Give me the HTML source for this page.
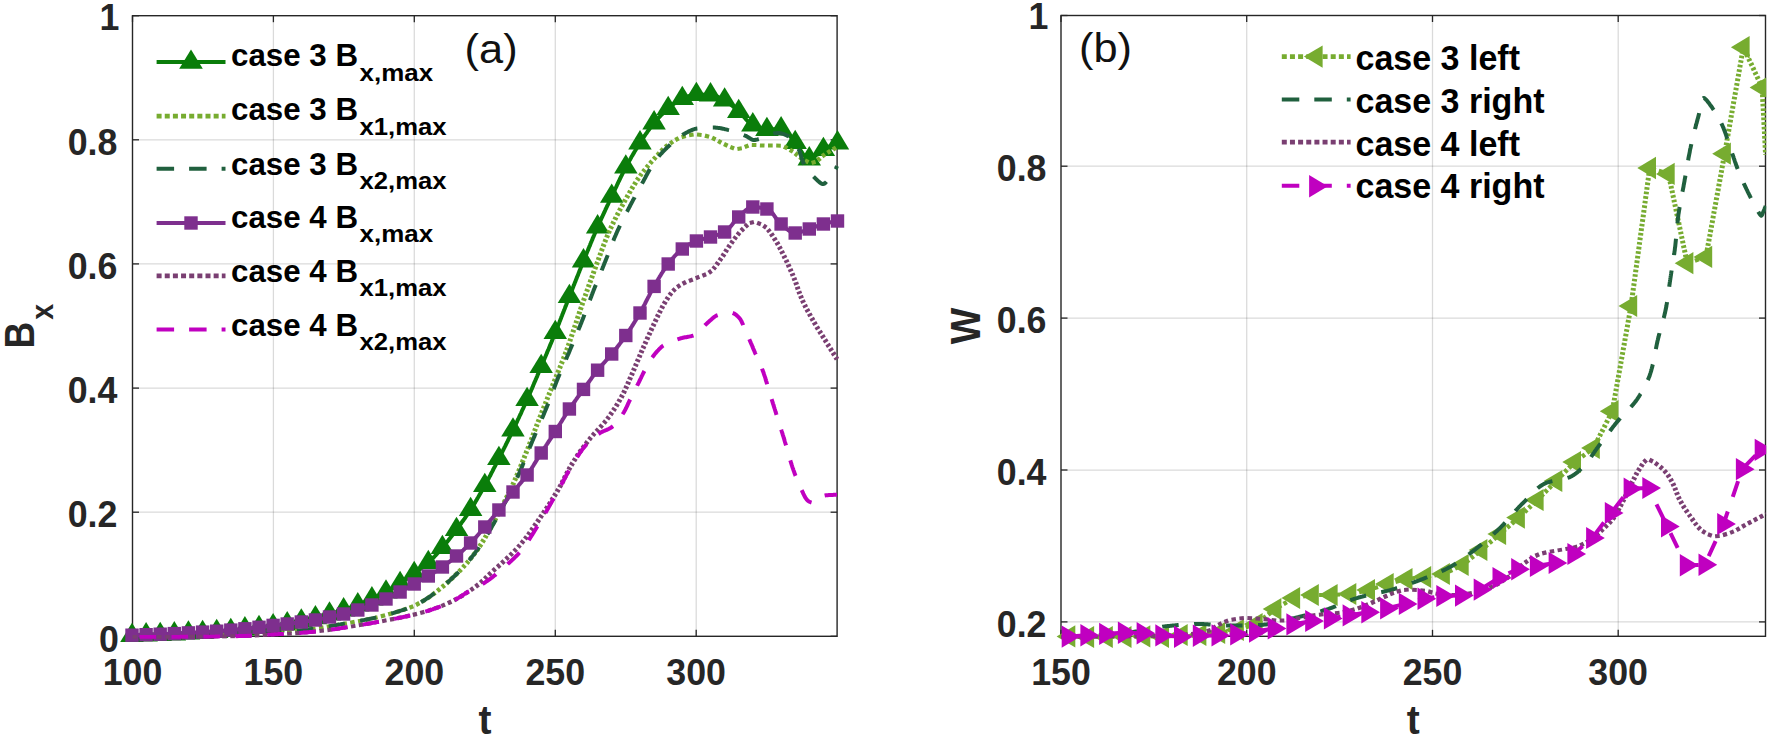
<!DOCTYPE html>
<html lang="en">
<head>
<meta charset="utf-8">
<title>Bx and W versus t</title>
<style>html,body{margin:0;padding:0;background:#fff;}body{width:1770px;height:743px;overflow:hidden;}svg{display:block;}</style>
</head>
<body>
<svg width="1770" height="743" viewBox="0 0 1770 743" font-family="'Liberation Sans', Arial, Helvetica, sans-serif">
<rect width="1770" height="743" fill="#ffffff"/>
<defs><clipPath id="cl"><rect x="130.0" y="13.2" width="709.6" height="625.6"/></clipPath><clipPath id="cr"><rect x="1058.5" y="13.0" width="707.7" height="625.8"/></clipPath><clipPath id="crm"><rect x="1000" y="0" width="766.2" height="743"/></clipPath></defs>
<g id="left-panel">
<line x1="273.4" y1="15.7" x2="273.4" y2="636.3" stroke="#262626" stroke-opacity="0.17" stroke-width="1.25"/><line x1="414.3" y1="15.7" x2="414.3" y2="636.3" stroke="#262626" stroke-opacity="0.17" stroke-width="1.25"/><line x1="555.3" y1="15.7" x2="555.3" y2="636.3" stroke="#262626" stroke-opacity="0.17" stroke-width="1.25"/><line x1="696.2" y1="15.7" x2="696.2" y2="636.3" stroke="#262626" stroke-opacity="0.17" stroke-width="1.25"/><line x1="132.5" y1="512.2" x2="837.1" y2="512.2" stroke="#262626" stroke-opacity="0.17" stroke-width="1.25"/><line x1="132.5" y1="388.1" x2="837.1" y2="388.1" stroke="#262626" stroke-opacity="0.17" stroke-width="1.25"/><line x1="132.5" y1="263.9" x2="837.1" y2="263.9" stroke="#262626" stroke-opacity="0.17" stroke-width="1.25"/><line x1="132.5" y1="139.8" x2="837.1" y2="139.8" stroke="#262626" stroke-opacity="0.17" stroke-width="1.25"/>
<line x1="132.5" y1="636.3" x2="132.5" y2="629.8" stroke="#262626" stroke-width="1.3"/><line x1="132.5" y1="15.7" x2="132.5" y2="22.2" stroke="#262626" stroke-width="1.3"/><line x1="273.4" y1="636.3" x2="273.4" y2="629.8" stroke="#262626" stroke-width="1.3"/><line x1="273.4" y1="15.7" x2="273.4" y2="22.2" stroke="#262626" stroke-width="1.3"/><line x1="414.3" y1="636.3" x2="414.3" y2="629.8" stroke="#262626" stroke-width="1.3"/><line x1="414.3" y1="15.7" x2="414.3" y2="22.2" stroke="#262626" stroke-width="1.3"/><line x1="555.3" y1="636.3" x2="555.3" y2="629.8" stroke="#262626" stroke-width="1.3"/><line x1="555.3" y1="15.7" x2="555.3" y2="22.2" stroke="#262626" stroke-width="1.3"/><line x1="696.2" y1="636.3" x2="696.2" y2="629.8" stroke="#262626" stroke-width="1.3"/><line x1="696.2" y1="15.7" x2="696.2" y2="22.2" stroke="#262626" stroke-width="1.3"/><line x1="132.5" y1="636.3" x2="139.0" y2="636.3" stroke="#262626" stroke-width="1.3"/><line x1="837.1" y1="636.3" x2="830.6" y2="636.3" stroke="#262626" stroke-width="1.3"/><line x1="132.5" y1="512.2" x2="139.0" y2="512.2" stroke="#262626" stroke-width="1.3"/><line x1="837.1" y1="512.2" x2="830.6" y2="512.2" stroke="#262626" stroke-width="1.3"/><line x1="132.5" y1="388.1" x2="139.0" y2="388.1" stroke="#262626" stroke-width="1.3"/><line x1="837.1" y1="388.1" x2="830.6" y2="388.1" stroke="#262626" stroke-width="1.3"/><line x1="132.5" y1="263.9" x2="139.0" y2="263.9" stroke="#262626" stroke-width="1.3"/><line x1="837.1" y1="263.9" x2="830.6" y2="263.9" stroke="#262626" stroke-width="1.3"/><line x1="132.5" y1="139.8" x2="139.0" y2="139.8" stroke="#262626" stroke-width="1.3"/><line x1="837.1" y1="139.8" x2="830.6" y2="139.8" stroke="#262626" stroke-width="1.3"/><line x1="132.5" y1="15.7" x2="139.0" y2="15.7" stroke="#262626" stroke-width="1.3"/><line x1="837.1" y1="15.7" x2="830.6" y2="15.7" stroke="#262626" stroke-width="1.3"/><rect x="132.5" y="15.7" width="704.6" height="620.6" fill="none" stroke="#262626" stroke-width="1.4"/>
<g id="left-curves">
<polyline points="132.0,635.6 133.0,635.6 134.0,635.5 135.0,635.5 136.0,635.4 137.0,635.4 138.0,635.3 139.0,635.3 140.0,635.2 141.0,635.2 142.0,635.2 143.0,635.1 144.0,635.1 145.0,635.0 146.0,635.0 147.0,635.0 148.0,634.9 149.0,634.9 150.0,634.9 151.0,634.9 152.0,634.8 153.0,634.8 154.0,634.8 155.0,634.8 156.0,634.7 157.0,634.7 158.0,634.7 159.0,634.6 160.0,634.6 161.0,634.6 162.0,634.5 163.0,634.5 164.0,634.5 165.0,634.4 166.0,634.4 167.0,634.3 168.0,634.3 169.0,634.2 170.0,634.2 171.0,634.2 172.0,634.1 173.0,634.1 174.0,634.0 175.0,634.0 176.0,633.9 177.0,633.9 178.1,633.8 179.1,633.7 180.1,633.7 181.1,633.6 182.1,633.6 183.1,633.5 184.1,633.4 185.1,633.4 186.1,633.3 187.1,633.3 188.1,633.2 189.1,633.2 190.1,633.1 191.1,633.1 192.1,633.0 193.1,633.0 194.1,633.0 195.1,632.9 196.1,632.9 197.1,632.8 198.1,632.8 199.1,632.8 200.1,632.7 201.1,632.7 202.1,632.6 203.1,632.6 204.1,632.5 205.1,632.5 206.1,632.4 207.1,632.3 208.1,632.2 209.1,632.2 210.1,632.1 211.1,632.0 212.1,631.9 213.1,631.9 214.1,631.8 215.1,631.7 216.1,631.6 217.1,631.6 218.1,631.5 219.1,631.4 220.1,631.4 221.1,631.3 222.1,631.2 223.1,631.2 224.1,631.1 225.1,631.0 226.1,631.0 227.1,630.9 228.1,630.8 229.1,630.7 230.1,630.7 231.0,630.6 232.0,630.5 233.0,630.4 234.0,630.3 235.0,630.2 236.0,630.0 237.0,629.9 238.0,629.8 239.0,629.7 240.0,629.6 241.0,629.4 242.0,629.3 243.0,629.2 244.0,629.1 245.0,629.0 246.0,628.9 247.0,628.8 248.0,628.7 249.0,628.6 250.0,628.5 251.0,628.4 252.0,628.3 253.0,628.2 254.0,628.1 255.0,628.0 256.0,627.9 257.0,627.8 257.9,627.7 258.9,627.6 259.9,627.5 260.9,627.4 261.9,627.3 262.9,627.1 263.9,627.0 264.9,626.9 265.9,626.7 266.9,626.6 267.9,626.5 268.9,626.4 269.9,626.2 270.9,626.1 271.9,626.0 272.9,625.8 273.9,625.7 274.8,625.6 275.8,625.5 276.8,625.3 277.8,625.2 278.8,625.1 279.8,625.0 280.8,624.9 281.8,624.7 282.8,624.6 283.8,624.5 284.8,624.4 285.8,624.2 286.8,624.1 287.8,623.9 288.7,623.8 289.7,623.6 290.7,623.4 291.7,623.2 292.7,623.0 293.7,622.8 294.7,622.6 295.6,622.4 296.6,622.2 297.6,622.0 298.6,621.8 299.6,621.6 300.5,621.4 301.5,621.2 302.5,620.9 303.5,620.7 304.4,620.5 305.4,620.3 306.4,620.0 307.4,619.8 308.3,619.6 309.3,619.3 310.3,619.1 311.3,618.8 312.2,618.6 313.2,618.4 314.2,618.1 315.2,617.9 316.1,617.6 317.1,617.4 318.1,617.1 319.0,616.9 320.0,616.7 321.0,616.4 322.0,616.2 322.9,615.9 323.9,615.7 324.9,615.4 325.8,615.2 326.8,614.9 327.8,614.7 328.7,614.4 329.7,614.2 330.7,613.9 331.6,613.6 332.6,613.3 333.6,613.1 334.5,612.8 335.5,612.5 336.5,612.2 337.4,611.9 338.4,611.7 339.3,611.4 340.3,611.1 341.2,610.8 342.2,610.5 343.2,610.2 344.1,609.9 345.1,609.5 346.0,609.2 347.0,608.9 347.9,608.6 348.9,608.3 349.8,607.9 350.8,607.6 351.7,607.3 352.6,606.9 353.6,606.6 354.5,606.2 355.5,605.9 356.4,605.5 357.3,605.2 358.3,604.8 359.2,604.4 360.1,604.1 361.1,603.7 362.0,603.3 362.9,602.9 363.8,602.5 364.8,602.1 365.7,601.7 366.6,601.3 367.5,600.9 368.4,600.5 369.3,600.1 370.3,599.7 371.2,599.3 372.1,598.9 373.0,598.5 373.9,598.1 374.8,597.7 375.7,597.2 376.6,596.8 377.6,596.4 378.5,596.0 379.4,595.5 380.3,595.1 381.2,594.7 382.1,594.2 383.0,593.8 383.9,593.3 384.7,592.9 385.6,592.4 386.5,591.9 387.4,591.4 388.3,590.9 389.1,590.4 390.0,589.9 390.9,589.4 391.7,588.9 392.6,588.4 393.4,587.9 394.3,587.3 395.1,586.8 396.0,586.3 396.8,585.7 397.7,585.2 398.5,584.6 399.3,584.1 400.2,583.5 401.0,583.0 401.8,582.4 402.7,581.9 403.5,581.3 404.3,580.7 405.2,580.2 406.0,579.6 406.8,579.0 407.6,578.4 408.4,577.8 409.2,577.3 410.0,576.7 410.9,576.1 411.7,575.5 412.5,574.9 413.3,574.3 414.1,573.7 414.9,573.1 415.7,572.5 416.5,571.9 417.3,571.3 418.1,570.7 418.9,570.1 419.7,569.5 420.5,568.9 421.3,568.3 422.1,567.7 422.9,567.1 423.7,566.5 424.5,565.8 425.3,565.2 426.1,564.6 426.8,563.9 427.6,563.3 428.3,562.6 429.0,561.9 429.8,561.3 430.5,560.6 431.2,559.9 431.9,559.2 432.6,558.5 433.3,557.7 434.0,557.0 434.7,556.3 435.4,555.5 436.1,554.8 436.7,554.1 437.4,553.3 438.1,552.6 438.8,551.8 439.4,551.1 440.1,550.3 440.7,549.5 441.4,548.8 442.1,548.0 442.7,547.3 443.4,546.5 444.0,545.7 444.6,545.0 445.3,544.2 445.9,543.4 446.5,542.6 447.2,541.9 447.8,541.1 448.4,540.3 449.0,539.5 449.6,538.7 450.3,537.9 450.9,537.1 451.5,536.3 452.1,535.5 452.7,534.7 453.3,533.9 453.9,533.1 454.5,532.3 455.1,531.5 455.7,530.7 456.3,529.9 456.9,529.1 457.5,528.3 458.1,527.5 458.7,526.7 459.3,525.9 459.9,525.1 460.5,524.3 461.1,523.5 461.6,522.6 462.2,521.8 462.8,521.0 463.4,520.2 464.0,519.4 464.6,518.6 465.1,517.8 465.7,516.9 466.3,516.1 466.9,515.3 467.4,514.5 468.0,513.6 468.5,512.8 469.1,512.0 469.6,511.1 470.2,510.3 470.7,509.4 471.3,508.6 471.8,507.8 472.3,506.9 472.9,506.1 473.4,505.2 473.9,504.4 474.4,503.5 475.0,502.7 475.5,501.8 476.0,500.9 476.5,500.1 477.0,499.2 477.5,498.3 478.0,497.5 478.5,496.6 479.0,495.7 479.5,494.9 480.0,494.0 480.5,493.1 481.0,492.3 481.5,491.4 482.0,490.5 482.5,489.6 483.0,488.8 483.5,487.9 484.0,487.0 484.5,486.1 484.9,485.3 485.4,484.4 485.9,483.5 486.4,482.6 486.9,481.7 487.3,480.9 487.8,480.0 488.3,479.1 488.8,478.2 489.2,477.3 489.7,476.4 490.2,475.6 490.6,474.7 491.1,473.8 491.5,472.9 492.0,472.0 492.5,471.1 492.9,470.2 493.4,469.3 493.8,468.4 494.3,467.5 494.8,466.6 495.2,465.8 495.7,464.9 496.1,464.0 496.6,463.1 497.0,462.2 497.5,461.3 497.9,460.4 498.4,459.5 498.9,458.6 499.3,457.7 499.8,456.8 500.2,455.9 500.7,455.0 501.1,454.1 501.6,453.3 502.0,452.4 502.5,451.5 502.9,450.6 503.4,449.7 503.8,448.8 504.3,447.9 504.7,447.0 505.2,446.1 505.6,445.2 506.1,444.3 506.5,443.4 507.0,442.5 507.4,441.6 507.9,440.7 508.3,439.8 508.7,438.9 509.2,438.0 509.6,437.1 510.1,436.2 510.5,435.3 510.9,434.4 511.4,433.5 511.8,432.6 512.2,431.7 512.7,430.8 513.1,429.9 513.5,429.0 514.0,428.1 514.4,427.2 514.8,426.3 515.3,425.4 515.7,424.5 516.1,423.6 516.5,422.7 517.0,421.8 517.4,420.8 517.8,419.9 518.2,419.0 518.7,418.1 519.1,417.2 519.5,416.3 519.9,415.4 520.4,414.5 520.8,413.6 521.2,412.7 521.6,411.7 522.0,410.8 522.4,409.9 522.9,409.0 523.3,408.1 523.7,407.2 524.1,406.3 524.5,405.4 524.9,404.4 525.3,403.5 525.7,402.6 526.1,401.7 526.6,400.8 527.0,399.9 527.4,399.0 527.8,398.0 528.2,397.1 528.6,396.2 529.0,395.3 529.4,394.4 529.8,393.5 530.2,392.5 530.6,391.6 531.0,390.7 531.4,389.8 531.8,388.9 532.2,387.9 532.6,387.0 533.0,386.1 533.3,385.2 533.7,384.3 534.1,383.3 534.5,382.4 534.9,381.5 535.3,380.6 535.7,379.6 536.1,378.7 536.5,377.8 536.9,376.9 537.3,375.9 537.6,375.0 538.0,374.1 538.4,373.2 538.8,372.3 539.2,371.3 539.6,370.4 540.0,369.5 540.4,368.6 540.8,367.6 541.1,366.7 541.5,365.8 541.9,364.9 542.3,363.9 542.7,363.0 543.1,362.1 543.5,361.2 543.9,360.3 544.3,359.3 544.6,358.4 545.0,357.5 545.4,356.6 545.8,355.6 546.2,354.7 546.6,353.8 547.0,352.9 547.3,351.9 547.7,351.0 548.1,350.1 548.5,349.2 548.9,348.2 549.3,347.3 549.7,346.4 550.0,345.5 550.4,344.5 550.8,343.6 551.2,342.7 551.6,341.8 552.0,340.8 552.3,339.9 552.7,339.0 553.1,338.0 553.5,337.1 553.8,336.2 554.2,335.3 554.6,334.3 555.0,333.4 555.4,332.5 555.7,331.5 556.1,330.6 556.5,329.7 556.8,328.8 557.2,327.8 557.6,326.9 557.9,326.0 558.3,325.0 558.7,324.1 559.1,323.2 559.4,322.2 559.8,321.3 560.1,320.4 560.5,319.4 560.9,318.5 561.2,317.6 561.6,316.6 562.0,315.7 562.3,314.8 562.7,313.8 563.1,312.9 563.4,312.0 563.8,311.0 564.1,310.1 564.5,309.2 564.9,308.2 565.2,307.3 565.6,306.4 566.0,305.4 566.3,304.5 566.7,303.6 567.0,302.6 567.4,301.7 567.8,300.8 568.1,299.8 568.5,298.9 568.9,298.0 569.2,297.0 569.6,296.1 570.0,295.2 570.3,294.2 570.7,293.3 571.1,292.4 571.4,291.4 571.8,290.5 572.2,289.6 572.5,288.6 572.9,287.7 573.3,286.8 573.6,285.8 574.0,284.9 574.4,284.0 574.7,283.0 575.1,282.1 575.5,281.2 575.8,280.2 576.2,279.3 576.6,278.4 576.9,277.4 577.3,276.5 577.7,275.6 578.1,274.7 578.4,273.7 578.8,272.8 579.2,271.9 579.5,270.9 579.9,270.0 580.3,269.1 580.6,268.1 581.0,267.2 581.4,266.3 581.8,265.3 582.1,264.4 582.5,263.5 582.9,262.6 583.3,261.6 583.6,260.7 584.0,259.8 584.4,258.8 584.8,257.9 585.1,257.0 585.5,256.1 585.9,255.1 586.3,254.2 586.7,253.3 587.0,252.3 587.4,251.4 587.8,250.5 588.2,249.6 588.5,248.6 588.9,247.7 589.3,246.8 589.7,245.9 590.1,244.9 590.4,244.0 590.8,243.1 591.2,242.1 591.6,241.2 592.0,240.3 592.4,239.4 592.7,238.4 593.1,237.5 593.5,236.6 593.9,235.7 594.3,234.8 594.7,233.8 595.1,232.9 595.5,232.0 595.9,231.1 596.3,230.1 596.7,229.2 597.1,228.3 597.5,227.4 597.9,226.5 598.3,225.6 598.7,224.6 599.1,223.7 599.5,222.8 599.9,221.9 600.3,221.0 600.7,220.1 601.1,219.2 601.5,218.2 602.0,217.3 602.4,216.4 602.8,215.5 603.2,214.6 603.6,213.7 604.1,212.8 604.5,211.9 604.9,211.0 605.3,210.1 605.7,209.1 606.2,208.2 606.6,207.3 607.0,206.4 607.4,205.5 607.9,204.6 608.3,203.7 608.7,202.8 609.1,201.9 609.6,201.0 610.0,200.1 610.4,199.2 610.9,198.3 611.3,197.4 611.7,196.5 612.1,195.5 612.6,194.6 613.0,193.7 613.4,192.8 613.8,191.9 614.3,191.0 614.7,190.1 615.1,189.2 615.5,188.3 616.0,187.4 616.4,186.5 616.8,185.6 617.2,184.6 617.7,183.7 618.1,182.8 618.5,181.9 619.0,181.0 619.4,180.1 619.8,179.2 620.3,178.3 620.7,177.4 621.1,176.5 621.6,175.6 622.0,174.7 622.5,173.8 622.9,172.9 623.4,172.0 623.8,171.1 624.3,170.2 624.7,169.3 625.2,168.5 625.7,167.6 626.1,166.7 626.6,165.8 627.1,164.9 627.5,164.0 628.0,163.2 628.5,162.3 629.0,161.4 629.5,160.5 630.0,159.7 630.5,158.8 631.0,157.9 631.4,157.0 631.9,156.2 632.5,155.3 633.0,154.4 633.5,153.6 634.0,152.7 634.5,151.8 635.0,151.0 635.5,150.1 636.0,149.3 636.6,148.4 637.1,147.6 637.6,146.7 638.1,145.9 638.7,145.0 639.2,144.2 639.8,143.3 640.3,142.5 640.8,141.6 641.4,140.8 641.9,140.0 642.5,139.1 643.0,138.3 643.6,137.4 644.1,136.6 644.7,135.8 645.2,134.9 645.8,134.1 646.4,133.3 647.0,132.4 647.5,131.6 648.1,130.8 648.7,130.0 649.3,129.2 649.9,128.3 650.5,127.5 651.1,126.8 651.7,126.0 652.3,125.2 652.9,124.4 653.6,123.6 654.2,122.9 654.8,122.1 655.5,121.3 656.1,120.6 656.8,119.8 657.5,119.1 658.1,118.3 658.8,117.6 659.5,116.9 660.2,116.1 660.9,115.4 661.6,114.7 662.3,114.0 663.0,113.3 663.8,112.6 664.5,111.9 665.2,111.2 666.0,110.5 666.7,109.9 667.5,109.2 668.2,108.6 669.0,107.9 669.8,107.3 670.5,106.6 671.3,106.0 672.1,105.3 672.9,104.6 673.7,104.0 674.5,103.4 675.3,102.8 676.1,102.2 677.0,101.6 677.8,101.0 678.6,100.5 679.5,100.0 680.4,99.5 681.2,99.1 682.1,98.7 683.0,98.3 683.9,97.9 684.8,97.5 685.8,97.2 686.7,96.8 687.7,96.4 688.7,96.1 689.6,95.8 690.6,95.5 691.6,95.2 692.6,95.0 693.6,94.8 694.6,94.7 695.6,94.6 696.6,94.6 697.5,94.6 698.5,94.6 699.5,94.6 700.6,94.6 701.6,94.7 702.6,94.7 703.6,94.7 704.6,94.7 705.6,94.8 706.6,94.8 707.6,94.9 708.6,94.9 709.6,95.0 710.6,95.0 711.6,95.1 712.5,95.2 713.5,95.4 714.5,95.7 715.4,96.0 716.4,96.3 717.4,96.7 718.3,97.1 719.3,97.5 720.2,98.0 721.1,98.4 722.0,98.9 722.9,99.3 723.8,99.8 724.7,100.2 725.5,100.7 726.4,101.2 727.2,101.7 728.0,102.3 728.8,102.9 729.6,103.5 730.4,104.1 731.1,104.8 731.9,105.4 732.7,106.1 733.4,106.8 734.2,107.5 734.9,108.2 735.7,108.9 736.4,109.5 737.2,110.2 737.9,110.9 738.7,111.6 739.4,112.2 740.2,112.9 740.9,113.7 741.6,114.4 742.3,115.2 743.0,116.0 743.7,116.7 744.4,117.5 745.1,118.3 745.8,119.1 746.5,119.8 747.2,120.6 747.9,121.3 748.6,122.0 749.3,122.6 750.1,123.2 750.9,123.8 751.6,124.3 752.5,124.8 753.3,125.2 754.1,125.7 755.0,126.1 755.9,126.5 756.9,126.9 757.8,127.4 758.8,127.8 759.7,128.1 760.7,128.5 761.7,128.8 762.7,129.0 763.7,129.3 764.7,129.4 765.7,129.5 766.7,129.6 767.7,129.6 768.7,129.6 769.7,129.5 770.7,129.5 771.8,129.4 772.8,129.4 773.9,129.3 774.9,129.3 776.0,129.2 777.0,129.1 778.0,129.1 778.9,129.0 779.9,129.0 780.7,129.0 781.6,129.0 782.4,129.2 783.2,129.4 784.0,129.8 784.8,130.3 785.5,130.9 786.3,131.5 787.0,132.3 787.7,133.1 788.4,133.9 789.1,134.8 789.8,135.7 790.5,136.6 791.1,137.5 791.8,138.4 792.5,139.3 793.2,140.2 793.9,141.1 794.5,141.9 795.2,142.6 795.9,143.4 796.6,144.2 797.2,145.1 797.9,146.1 798.5,147.0 799.1,148.0 799.8,149.0 800.4,150.0 801.0,151.1 801.6,152.0 802.3,153.0 802.9,153.9 803.5,154.8 804.2,155.6 804.8,156.4 805.4,157.1 806.1,157.7 806.8,158.2 807.5,158.6 808.2,158.8 808.9,159.0 809.6,159.0 810.4,158.9 811.2,158.6 811.9,158.2 812.7,157.8 813.6,157.3 814.4,156.7 815.2,156.0 816.1,155.3 816.9,154.6 817.8,153.8 818.6,153.1 819.5,152.4 820.4,151.7 821.3,151.0 822.1,150.4 823.0,149.8 823.9,149.3 824.7,148.9 825.6,148.4 826.5,147.9 827.4,147.5 828.3,147.0 829.2,146.6 830.1,146.2 831.0,145.7 831.9,145.3 832.8,144.9 833.8,144.5 834.7,144.1 835.6,143.7 836.6,143.4 837.5,143.0" fill="none" stroke="#0a7d0a" stroke-width="4.00" stroke-linejoin="round" />
<polygon points="132.0,622.7 120.2,642.0 143.8,642.0" fill="#0a7d0a"/><polygon points="146.1,622.1 134.4,641.4 157.9,641.4" fill="#0a7d0a"/><polygon points="160.2,621.7 148.5,641.0 172.0,641.0" fill="#0a7d0a"/><polygon points="174.3,621.1 162.6,640.4 186.1,640.4" fill="#0a7d0a"/><polygon points="188.4,620.3 176.7,639.6 200.2,639.6" fill="#0a7d0a"/><polygon points="202.6,619.7 190.8,639.0 214.3,639.0" fill="#0a7d0a"/><polygon points="216.7,618.7 204.9,638.0 228.4,638.0" fill="#0a7d0a"/><polygon points="230.8,617.7 219.0,637.0 242.5,637.0" fill="#0a7d0a"/><polygon points="244.9,616.1 233.1,635.4 256.6,635.4" fill="#0a7d0a"/><polygon points="259.0,614.7 247.2,634.0 270.7,634.0" fill="#0a7d0a"/><polygon points="273.1,612.9 261.4,632.2 284.9,632.2" fill="#0a7d0a"/><polygon points="287.2,611.1 275.5,630.4 299.0,630.4" fill="#0a7d0a"/><polygon points="301.3,608.3 289.6,627.6 313.1,627.6" fill="#0a7d0a"/><polygon points="315.4,604.9 303.7,624.2 327.2,624.2" fill="#0a7d0a"/><polygon points="329.5,601.3 317.8,620.6 341.3,620.6" fill="#0a7d0a"/><polygon points="343.6,597.1 331.9,616.4 355.4,616.4" fill="#0a7d0a"/><polygon points="357.8,592.1 346.0,611.4 369.5,611.4" fill="#0a7d0a"/><polygon points="371.9,586.1 360.1,605.4 383.6,605.4" fill="#0a7d0a"/><polygon points="386.0,579.3 374.2,598.6 397.7,598.6" fill="#0a7d0a"/><polygon points="400.1,570.7 388.3,590.0 411.8,590.0" fill="#0a7d0a"/><polygon points="414.2,560.7 402.4,580.0 425.9,580.0" fill="#0a7d0a"/><polygon points="428.3,549.7 416.6,569.0 440.1,569.0" fill="#0a7d0a"/><polygon points="442.4,534.7 430.7,554.0 454.2,554.0" fill="#0a7d0a"/><polygon points="456.5,516.7 444.8,536.0 468.3,536.0" fill="#0a7d0a"/><polygon points="470.6,496.7 458.9,516.0 482.4,516.0" fill="#0a7d0a"/><polygon points="484.8,472.7 473.0,492.0 496.5,492.0" fill="#0a7d0a"/><polygon points="498.9,445.7 487.1,465.0 510.6,465.0" fill="#0a7d0a"/><polygon points="513.0,417.3 501.2,436.6 524.7,436.6" fill="#0a7d0a"/><polygon points="527.1,386.7 515.3,406.0 538.8,406.0" fill="#0a7d0a"/><polygon points="541.2,353.7 529.4,373.0 552.9,373.0" fill="#0a7d0a"/><polygon points="555.3,319.7 543.5,339.0 567.0,339.0" fill="#0a7d0a"/><polygon points="569.4,283.7 557.7,303.0 581.2,303.0" fill="#0a7d0a"/><polygon points="583.5,248.1 571.8,267.4 595.3,267.4" fill="#0a7d0a"/><polygon points="597.6,214.1 585.9,233.4 609.4,233.4" fill="#0a7d0a"/><polygon points="611.7,183.5 600.0,202.8 623.5,202.8" fill="#0a7d0a"/><polygon points="625.8,154.3 614.1,173.6 637.6,173.6" fill="#0a7d0a"/><polygon points="640.0,130.1 628.2,149.4 651.7,149.4" fill="#0a7d0a"/><polygon points="654.1,110.1 642.3,129.4 665.8,129.4" fill="#0a7d0a"/><polygon points="668.2,95.7 656.4,115.0 679.9,115.0" fill="#0a7d0a"/><polygon points="682.3,85.7 670.5,105.0 694.0,105.0" fill="#0a7d0a"/><polygon points="696.4,81.7 684.6,101.0 708.1,101.0" fill="#0a7d0a"/><polygon points="710.5,82.1 698.8,101.4 722.3,101.4" fill="#0a7d0a"/><polygon points="724.6,87.3 712.9,106.6 736.4,106.6" fill="#0a7d0a"/><polygon points="738.7,98.7 727.0,118.0 750.5,118.0" fill="#0a7d0a"/><polygon points="752.8,112.1 741.1,131.4 764.6,131.4" fill="#0a7d0a"/><polygon points="766.9,116.7 755.2,136.0 778.7,136.0" fill="#0a7d0a"/><polygon points="781.1,116.1 769.3,135.4 792.8,135.4" fill="#0a7d0a"/><polygon points="795.2,129.7 783.4,149.0 806.9,149.0" fill="#0a7d0a"/><polygon points="809.3,146.1 797.5,165.4 821.0,165.4" fill="#0a7d0a"/><polygon points="823.4,136.7 811.6,156.0 835.1,156.0" fill="#0a7d0a"/><polygon points="837.5,130.1 825.8,149.4 849.2,149.4" fill="#0a7d0a"/>
<g fill="none" stroke="#77ac30" clip-path="url(#cl)"><path d="M132.5 636.0L137.1 636.0M140.6 636.0L145.3 636.0M148.8 635.9L153.4 635.9M156.9 635.9L161.6 635.8M165.1 635.8L169.7 635.7M173.2 635.7L177.9 635.6M181.4 635.6L186.0 635.5M189.5 635.5L194.2 635.4M197.7 635.3L202.3 635.3M205.8 635.2L210.5 635.1M214.0 635.0L218.6 634.9M222.1 634.8L226.8 634.6M230.3 634.5L234.9 634.3M238.4 634.2L243.0 634.0M246.5 633.8L251.1 633.6M254.6 633.5L259.3 633.2M262.7 633.1L267.4 632.8M270.9 632.6L275.5 632.4M279.0 632.1L283.6 631.8M287.0 631.5L291.6 631.1M295.1 630.8L299.7 630.4M303.1 630.0L307.7 629.5M311.1 629.1L315.6 628.5M319.0 628.0L323.5 627.3M326.8 626.7L331.3 625.9M334.6 625.3L339.1 624.6M342.4 624.0L346.9 623.2M350.2 622.7L354.6 621.8M358.0 621.2L362.4 620.4M689.1 135.2L693.6 134.5M697.0 134.4L701.6 134.9M737.4 149.0L741.8 148.3M751.8 145.0L756.4 145.1M759.9 145.4L764.5 145.6M768.0 145.6L772.7 145.6M776.2 145.6L780.8 145.7" stroke-width="4.00"/><path d="M365.7 619.8L370.1 618.9M373.3 618.2L377.6 617.2M380.8 616.4L385.1 615.3M388.2 614.4L392.4 613.2M395.5 612.3L399.6 611.1M402.6 610.1L406.6 608.8M409.5 607.7L413.3 606.2M681.6 137.1L685.8 136.0M704.9 135.6L709.1 136.7M730.3 146.9L734.1 148.4M744.7 147.1L748.5 145.6M811.6 163.0L815.6 161.8" stroke-width="4.25"/><path d="M416.0 604.9L419.4 603.1M421.9 601.7L425.0 599.8M427.3 598.3L430.3 596.3M432.5 594.7L435.3 592.6M670.1 143.5L673.0 141.5M675.3 140.0L678.7 138.2M712.1 137.7L715.6 139.4M718.1 140.9L721.3 142.7M724.0 144.0L727.6 145.7M784.0 146.5L787.4 148.2M789.8 149.7L793.0 151.6M799.6 157.0L802.4 159.1M804.9 160.5L808.5 162.2M822.1 156.4L825.0 154.3M827.4 152.9L830.5 150.9M832.9 149.5L836.0 147.6" stroke-width="4.50"/><path d="M437.3 591.0L440.0 588.9M442.0 587.2L444.6 585.1M446.5 583.4L449.0 581.2M450.8 579.5L453.2 577.3M454.9 575.6L457.3 573.3M459.0 571.6L461.2 569.3M462.9 567.5L465.0 565.2M466.6 563.4L468.6 561.1M470.1 559.3L472.0 556.9M473.4 555.1L475.2 552.7M640.0 176.0L641.7 173.6M643.1 171.8L645.0 169.4M646.5 167.6L648.5 165.2M650.0 163.5L652.1 161.1M653.7 159.4L655.8 157.0M657.4 155.3L659.5 152.9M661.1 151.2L663.4 148.9M665.3 147.2L667.9 145.1M795.1 153.2L797.7 155.3M817.7 160.3L820.2 158.1" stroke-width="4.75"/><path d="M476.6 550.8L478.3 548.4M479.5 546.5L481.2 544.1M482.3 542.2L483.9 539.7M485.0 537.9L486.4 535.4M487.5 533.5L488.9 531.0M490.0 529.1L491.3 526.6M492.4 524.7L493.7 522.2M494.7 520.3L496.0 517.8M497.1 515.9L498.4 513.4M499.4 511.5L500.7 509.0M501.7 507.1L503.0 504.6M504.0 502.7L505.3 500.2M506.2 498.2L507.5 495.7M508.4 493.8L509.7 491.3M510.6 489.4L511.8 486.8M512.7 484.9L513.8 482.4M514.7 480.5L515.8 477.9M516.6 476.0L517.7 473.5M518.5 471.5L519.6 469.0M520.4 467.1L521.4 464.5M522.2 462.6L523.2 460.0M524.0 458.1L525.0 455.5M525.8 453.6L526.8 451.0M527.6 449.1L528.6 446.6M529.3 444.6L530.3 442.1M531.1 440.1L532.1 437.6M532.8 435.6L533.8 433.1M534.5 431.1L535.5 428.6M536.3 426.6L537.2 424.1M538.0 422.1L539.0 419.6M539.7 417.7L540.8 415.1M541.5 413.2L542.5 410.6M543.3 408.7L544.3 406.1M545.1 404.2L546.1 401.6M546.9 399.7L547.9 397.1M548.7 395.2L549.7 392.7M550.5 390.7L551.5 388.2M552.3 386.2L553.3 383.7M554.1 381.8L555.2 379.2M555.9 377.3L557.0 374.7M557.8 372.8L558.8 370.2M559.6 368.3L560.7 365.8M561.4 363.8L562.4 361.3M563.2 359.3L564.2 356.8M564.9 354.8L565.9 352.3M566.6 350.3L567.5 347.8M568.2 345.8L569.1 343.3M569.8 341.3L570.7 338.7M571.3 336.8L572.2 334.2M572.9 332.3L573.7 329.7M574.4 327.8L575.2 325.2M575.9 323.2L576.7 320.7M577.3 318.7L578.2 316.1M578.9 314.2L579.7 311.6M580.4 309.7L581.3 307.1M581.9 305.2L582.8 302.6M583.5 300.7L584.4 298.1M585.1 296.1L586.0 293.6M586.7 291.6L587.6 289.1M588.3 287.1L589.2 284.5M589.9 282.6L590.9 280.0M591.6 278.1L592.5 275.5M593.2 273.6L594.1 271.0M594.9 269.1L595.8 266.5M596.5 264.6L597.5 262.0M598.2 260.1L599.1 257.5M599.8 255.6L600.7 253.0M601.4 251.1L602.4 248.5M603.1 246.6L604.1 244.0M604.8 242.1L605.9 239.5M606.6 237.6L607.7 235.0M608.5 233.1L609.6 230.6M610.5 228.6L611.7 226.1M612.6 224.2L613.8 221.7M614.8 219.8L616.0 217.2M617.0 215.3L618.3 212.8M619.3 210.9L620.7 208.4M621.7 206.5L623.1 204.0M624.1 202.1L625.5 199.6M626.6 197.8L628.0 195.3M629.1 193.4L630.5 190.9M631.6 189.0L633.1 186.5M634.3 184.7L635.8 182.2M637.0 180.3L638.7 177.9" stroke-width="5.00"/></g>
<polyline points="132.5,636.0 133.5,636.0 134.5,636.0 135.5,636.0 136.5,636.0 137.5,636.0 138.5,636.0 139.5,636.0 140.5,636.0 141.5,636.0 142.5,636.0 143.5,636.0 144.5,636.0 145.5,636.0 146.5,636.0 147.5,636.0 148.5,635.9 149.5,635.9 150.5,635.9 151.5,635.9 152.5,635.9 153.5,635.9 154.5,635.9 155.5,635.9 156.5,635.9 157.5,635.9 158.5,635.9 159.5,635.9 160.5,635.8 161.5,635.8 162.5,635.8 163.5,635.8 164.5,635.8 165.5,635.8 166.5,635.8 167.5,635.8 168.5,635.8 169.5,635.7 170.5,635.7 171.5,635.7 172.5,635.7 173.5,635.7 174.5,635.7 175.5,635.7 176.5,635.7 177.5,635.6 178.5,635.6 179.5,635.6 180.5,635.6 181.6,635.6 182.6,635.6 183.6,635.6 184.6,635.5 185.6,635.5 186.6,635.5 187.6,635.5 188.6,635.5 189.6,635.5 190.6,635.5 191.6,635.4 192.6,635.4 193.6,635.4 194.6,635.4 195.6,635.4 196.6,635.4 197.6,635.3 198.6,635.3 199.6,635.3 200.6,635.3 201.6,635.3 202.6,635.3 203.6,635.2 204.6,635.2 205.6,635.2 206.6,635.2 207.6,635.2 208.6,635.1 209.6,635.1 210.6,635.1 211.6,635.1 212.6,635.0 213.6,635.0 214.6,635.0 215.6,635.0 216.6,634.9 217.6,634.9 218.6,634.9 219.6,634.8 220.6,634.8 221.6,634.8 222.6,634.8 223.6,634.7 224.6,634.7 225.6,634.7 226.6,634.6 227.6,634.6 228.6,634.6 229.6,634.5 230.6,634.5 231.6,634.5 232.6,634.4 233.6,634.4 234.6,634.3 235.6,634.3 236.6,634.3 237.6,634.2 238.6,634.2 239.6,634.1 240.6,634.1 241.6,634.1 242.6,634.0 243.6,634.0 244.6,633.9 245.6,633.9 246.6,633.8 247.6,633.8 248.6,633.7 249.6,633.7 250.6,633.7 251.6,633.6 252.6,633.6 253.6,633.5 254.6,633.5 255.6,633.4 256.6,633.4 257.6,633.3 258.6,633.3 259.6,633.2 260.6,633.2 261.6,633.1 262.6,633.1 263.6,633.0 264.6,633.0 265.6,632.9 266.6,632.9 267.6,632.8 268.6,632.7 269.6,632.7 270.6,632.6 271.6,632.6 272.6,632.5 273.6,632.5 274.6,632.4 275.6,632.3 276.6,632.3 277.6,632.2 278.6,632.2 279.6,632.1 280.6,632.0 281.6,631.9 282.6,631.9 283.6,631.8 284.6,631.7 285.6,631.6 286.6,631.6 287.6,631.5 288.6,631.4 289.6,631.3 290.6,631.2 291.6,631.1 292.6,631.0 293.6,631.0 294.5,630.9 295.5,630.8 296.5,630.7 297.5,630.6 298.5,630.5 299.5,630.4 300.5,630.3 301.5,630.2 302.5,630.1 303.5,629.9 304.5,629.8 305.5,629.7 306.5,629.6 307.5,629.5 308.5,629.4 309.5,629.3 310.5,629.2 311.5,629.0 312.5,628.9 313.5,628.8 314.4,628.7 315.4,628.6 316.4,628.4 317.4,628.3 318.4,628.1 319.4,628.0 320.4,627.8 321.4,627.6 322.4,627.5 323.3,627.3 324.3,627.1 325.3,627.0 326.3,626.8 327.3,626.6 328.3,626.4 329.3,626.3 330.3,626.1 331.2,625.9 332.2,625.7 333.2,625.6 334.2,625.4 335.2,625.2 336.2,625.1 337.2,624.9 338.1,624.7 339.1,624.6 340.1,624.4 341.1,624.2 342.1,624.1 343.1,623.9 344.1,623.7 345.1,623.6 346.0,623.4 347.0,623.2 348.0,623.0 349.0,622.9 350.0,622.7 351.0,622.5 352.0,622.3 352.9,622.2 353.9,622.0 354.9,621.8 355.9,621.6 356.9,621.4 357.9,621.2 358.8,621.1 359.8,620.9 360.8,620.7 361.8,620.5 362.8,620.3 363.8,620.1 364.7,619.9 365.7,619.7 366.7,619.5 367.7,619.3 368.7,619.1 369.7,618.9 370.6,618.7 371.6,618.5 372.6,618.3 373.6,618.1 374.5,617.9 375.5,617.7 376.5,617.4 377.5,617.2 378.4,617.0 379.4,616.7 380.4,616.5 381.4,616.2 382.3,616.0 383.3,615.7 384.3,615.5 385.2,615.2 386.2,615.0 387.2,614.7 388.1,614.4 389.1,614.2 390.1,613.9 391.0,613.6 392.0,613.4 392.9,613.1 393.9,612.8 394.9,612.5 395.8,612.2 396.8,611.9 397.7,611.6 398.7,611.3 399.7,611.0 400.6,610.7 401.6,610.4 402.5,610.1 403.5,609.8 404.5,609.5 405.4,609.2 406.4,608.9 407.3,608.5 408.2,608.2 409.2,607.8 410.1,607.5 411.0,607.1 412.0,606.7 412.9,606.4 413.8,606.0 414.7,605.6 415.6,605.1 416.5,604.7 417.4,604.2 418.3,603.8 419.1,603.3 420.0,602.8 420.9,602.3 421.7,601.8 422.6,601.3 423.5,600.7 424.3,600.2 425.2,599.7 426.0,599.1 426.9,598.6 427.7,598.0 428.5,597.5 429.4,596.9 430.2,596.4 431.0,595.8 431.8,595.2 432.6,594.6 433.4,594.0 434.2,593.4 435.0,592.8 435.8,592.2 436.6,591.6 437.4,591.0 438.2,590.3 439.0,589.7 439.7,589.1 440.5,588.4 441.3,587.8 442.1,587.2 442.8,586.5 443.6,585.9 444.4,585.2 445.1,584.6 445.9,583.9 446.6,583.3 447.4,582.6 448.1,581.9 448.9,581.3 449.6,580.6 450.4,579.9 451.1,579.2 451.8,578.5 452.6,577.9 453.3,577.2 454.0,576.5 454.7,575.8 455.4,575.1 456.1,574.4 456.9,573.7 457.6,573.0 458.3,572.3 459.0,571.5 459.7,570.8 460.4,570.1 461.1,569.4 461.8,568.7 462.5,567.9 463.1,567.2 463.8,566.5 464.5,565.7 465.2,565.0 465.8,564.2 466.5,563.5 467.2,562.7 467.8,562.0 468.4,561.2 469.1,560.4 469.7,559.7 470.3,558.9 471.0,558.1 471.6,557.3 472.2,556.5 472.8,555.8 473.4,555.0 474.1,554.2 474.7,553.4 475.3,552.5 475.8,551.7 476.4,550.9 477.0,550.1 477.6,549.3 478.2,548.5 478.8,547.7 479.3,546.8 479.9,546.0 480.4,545.2 481.0,544.4 481.6,543.5 482.1,542.7 482.6,541.9 483.2,541.0 483.7,540.2 484.3,539.3 484.8,538.5 485.3,537.6 485.9,536.8 486.4,535.9 486.9,535.1 487.4,534.2 488.0,533.4 488.5,532.5 489.0,531.7 489.5,530.8 490.0,529.9 490.5,529.1 491.0,528.2 491.5,527.3 492.0,526.5 492.5,525.6 493.0,524.7 493.5,523.8 494.0,523.0 494.5,522.1 495.0,521.2 495.5,520.4 496.0,519.5 496.5,518.6 497.0,517.7 497.4,516.8 497.9,516.0 498.4,515.1 498.9,514.2 499.4,513.3 499.8,512.5 500.3,511.6 500.8,510.7 501.3,509.8 501.7,508.9 502.2,508.1 502.7,507.2 503.1,506.3 503.6,505.4 504.1,504.5 504.5,503.6 505.0,502.7 505.5,501.9 505.9,501.0 506.4,500.1 506.8,499.2 507.3,498.3 507.7,497.4 508.2,496.5 508.6,495.6 509.1,494.7 509.5,493.8 510.0,492.9 510.4,492.0 510.9,491.1 511.3,490.2 511.8,489.3 512.2,488.4 512.6,487.5 513.1,486.6 513.5,485.7 513.9,484.8 514.4,483.9 514.8,483.0 515.2,482.1 515.6,481.2 516.0,480.3 516.5,479.4 516.9,478.5 517.3,477.5 517.7,476.6 518.1,475.7 518.5,474.8 518.9,473.9 519.3,473.0 519.7,472.1 520.1,471.1 520.5,470.2 520.9,469.3 521.3,468.4 521.7,467.5 522.1,466.5 522.5,465.6 522.8,464.7 523.2,463.8 523.6,462.8 524.0,461.9 524.4,461.0 524.7,460.0 525.1,459.1 525.5,458.2 525.8,457.3 526.2,456.3 526.6,455.4 527.0,454.5 527.3,453.5 527.7,452.6 528.1,451.7 528.4,450.7 528.8,449.8 529.2,448.9 529.6,448.0 529.9,447.0 530.3,446.1 530.7,445.2 531.1,444.2 531.5,443.3 531.8,442.4 532.2,441.5 532.6,440.5 533.0,439.6 533.4,438.7 533.8,437.8 534.2,436.9 534.6,435.9 534.9,435.0 535.3,434.1 535.7,433.2 536.1,432.2 536.5,431.3 536.9,430.4 537.3,429.5 537.7,428.6 538.1,427.6 538.5,426.7 538.9,425.8 539.3,424.9 539.7,424.0 540.1,423.0 540.4,422.1 540.8,421.2 541.2,420.3 541.6,419.4 542.0,418.4 542.4,417.5 542.8,416.6 543.2,415.7 543.6,414.8 544.0,413.8 544.3,412.9 544.7,412.0 545.1,411.1 545.5,410.1 545.9,409.2 546.3,408.3 546.6,407.4 547.0,406.4 547.4,405.5 547.8,404.6 548.1,403.6 548.5,402.7 548.9,401.8 549.2,400.9 549.6,399.9 550.0,399.0 550.3,398.0 550.7,397.1 551.0,396.2 551.4,395.2 551.7,394.3 552.1,393.4 552.4,392.4 552.8,391.5 553.2,390.6 553.5,389.6 553.9,388.7 554.2,387.7 554.6,386.8 554.9,385.9 555.3,384.9 555.6,384.0 556.0,383.1 556.4,382.1 556.7,381.2 557.1,380.3 557.5,379.3 557.8,378.4 558.2,377.5 558.6,376.6 559.0,375.6 559.4,374.7 559.7,373.8 560.1,372.9 560.5,371.9 560.9,371.0 561.3,370.1 561.7,369.2 562.1,368.3 562.5,367.3 562.9,366.4 563.3,365.5 563.7,364.6 564.1,363.7 564.5,362.8 564.9,361.8 565.3,360.9 565.7,360.0 566.1,359.1 566.5,358.2 566.9,357.2 567.3,356.3 567.7,355.4 568.1,354.5 568.5,353.6 568.9,352.7 569.3,351.7 569.7,350.8 570.0,349.9 570.4,349.0 570.8,348.0 571.2,347.1 571.6,346.2 572.0,345.3 572.4,344.4 572.8,343.4 573.2,342.5 573.5,341.6 573.9,340.7 574.3,339.7 574.7,338.8 575.1,337.9 575.5,337.0 575.9,336.0 576.3,335.1 576.6,334.2 577.0,333.3 577.4,332.3 577.8,331.4 578.2,330.5 578.5,329.6 578.9,328.6 579.3,327.7 579.7,326.8 580.1,325.9 580.4,324.9 580.8,324.0 581.2,323.1 581.5,322.1 581.9,321.2 582.3,320.3 582.6,319.4 583.0,318.4 583.4,317.5 583.7,316.6 584.1,315.6 584.4,314.7 584.8,313.7 585.2,312.8 585.5,311.9 585.9,310.9 586.2,310.0 586.6,309.1 586.9,308.1 587.3,307.2 587.6,306.3 588.0,305.3 588.3,304.4 588.7,303.4 589.0,302.5 589.4,301.6 589.7,300.6 590.1,299.7 590.4,298.7 590.8,297.8 591.1,296.9 591.5,295.9 591.8,295.0 592.2,294.1 592.6,293.1 592.9,292.2 593.3,291.3 593.6,290.3 594.0,289.4 594.4,288.5 594.7,287.5 595.1,286.6 595.5,285.7 595.9,284.8 596.2,283.8 596.6,282.9 597.0,282.0 597.3,281.0 597.7,280.1 598.1,279.2 598.5,278.2 598.8,277.3 599.2,276.4 599.6,275.5 600.0,274.5 600.3,273.6 600.7,272.7 601.1,271.7 601.5,270.8 601.8,269.9 602.2,269.0 602.6,268.0 602.9,267.1 603.3,266.2 603.7,265.2 604.1,264.3 604.4,263.4 604.8,262.5 605.2,261.5 605.6,260.6 605.9,259.7 606.3,258.7 606.7,257.8 607.0,256.9 607.4,255.9 607.7,255.0 608.1,254.1 608.5,253.1 608.8,252.2 609.2,251.3 609.5,250.3 609.9,249.4 610.3,248.5 610.6,247.5 611.0,246.6 611.4,245.7 611.7,244.7 612.1,243.8 612.5,242.9 612.8,241.9 613.2,241.0 613.6,240.1 614.0,239.1 614.3,238.2 614.7,237.3 615.1,236.4 615.5,235.5 615.9,234.5 616.3,233.6 616.7,232.7 617.1,231.8 617.5,230.9 617.9,230.0 618.3,229.1 618.8,228.2 619.2,227.3 619.6,226.4 620.0,225.5 620.5,224.5 620.9,223.6 621.4,222.8 621.8,221.9 622.2,221.0 622.7,220.1 623.1,219.2 623.6,218.3 624.0,217.4 624.5,216.5 625.0,215.6 625.4,214.7 625.9,213.8 626.3,212.9 626.8,212.0 627.3,211.1 627.7,210.3 628.2,209.4 628.7,208.5 629.1,207.6 629.6,206.7 630.1,205.8 630.5,204.9 631.0,204.0 631.4,203.2 631.9,202.3 632.4,201.4 632.8,200.5 633.3,199.6 633.8,198.7 634.3,197.9 634.7,197.0 635.2,196.1 635.7,195.2 636.2,194.3 636.6,193.5 637.1,192.6 637.6,191.7 638.1,190.8 638.6,189.9 639.0,189.1 639.5,188.2 640.0,187.3 640.5,186.4 641.0,185.5 641.4,184.7 641.9,183.8 642.4,182.9 642.9,182.0 643.4,181.2 643.8,180.3 644.3,179.4 644.8,178.5 645.3,177.6 645.7,176.7 646.2,175.8 646.7,175.0 647.1,174.1 647.6,173.2 648.1,172.3 648.6,171.4 649.1,170.6 649.6,169.7 650.1,168.9 650.6,168.0 651.1,167.2 651.7,166.3 652.2,165.5 652.8,164.6 653.4,163.8 653.9,163.0 654.5,162.2 655.1,161.3 655.7,160.5 656.3,159.7 656.9,158.9 657.5,158.1 658.1,157.3 658.7,156.5 659.3,155.8 660.0,155.0 660.6,154.3 661.3,153.5 662.0,152.8 662.6,152.0 663.3,151.3 664.0,150.6 664.8,149.9 665.5,149.2 666.2,148.5 666.9,147.8 667.7,147.1 668.4,146.4 669.1,145.8 669.9,145.1 670.6,144.4 671.4,143.8 672.1,143.1 672.9,142.4 673.6,141.7 674.4,141.1 675.2,140.4 675.9,139.7 676.7,139.1 677.5,138.4 678.3,137.8 679.1,137.2 679.9,136.6 680.7,136.0 681.5,135.5 682.4,134.9 683.2,134.4 684.1,134.0 684.9,133.5 685.8,133.0 686.7,132.5 687.6,132.1 688.5,131.6 689.4,131.1 690.4,130.7 691.3,130.3 692.2,129.9 693.2,129.5 694.2,129.2 695.1,128.9 696.1,128.7 697.0,128.5 698.0,128.4 699.0,128.3 699.9,128.2 700.9,128.2 701.9,128.1 702.9,128.0 703.9,127.9 704.9,127.9 705.9,127.8 706.9,127.8 708.0,127.7 709.0,127.7 710.0,127.7 711.0,127.6 712.0,127.6 713.0,127.6 714.0,127.6 715.0,127.6 716.0,127.7 717.0,127.7 718.0,127.9 719.0,128.0 720.0,128.1 720.9,128.3 721.9,128.5 722.9,128.7 723.9,128.9 724.9,129.2 725.9,129.4 726.9,129.6 727.8,129.9 728.8,130.1 729.8,130.3 730.7,130.6 731.7,130.8 732.7,131.1 733.6,131.4 734.6,131.7 735.5,132.0 736.5,132.3 737.4,132.6 738.4,133.0 739.3,133.3 740.3,133.7 741.2,134.0 742.1,134.4 743.1,134.8 744.0,135.2 744.9,135.6 745.8,135.9 746.8,136.4 747.7,136.9 748.5,137.5 749.4,138.1 750.3,138.6 751.2,139.2 752.1,139.6 753.0,139.9 753.9,140.0 754.8,140.0 755.8,139.8 756.8,139.6 757.8,139.3 758.7,139.0 759.7,138.7 760.7,138.4 761.7,138.1 762.6,137.8 763.6,137.5 764.6,137.2 765.5,136.8 766.5,136.4 767.4,136.0 768.4,135.6 769.3,135.2 770.3,134.8 771.2,134.5 772.2,134.1 773.1,133.8 774.1,133.5 775.1,133.3 776.0,133.2 777.0,133.0 777.9,133.0 778.9,133.0 779.9,133.1 780.9,133.3 781.9,133.6 782.9,133.9 783.9,134.2 784.9,134.6 785.8,135.0 786.7,135.4 787.6,135.8 788.4,136.2 789.1,136.7 789.9,137.2 790.6,137.9 791.4,138.6 792.1,139.3 792.8,140.1 793.4,140.9 794.1,141.7 794.7,142.6 795.3,143.5 795.9,144.4 796.4,145.3 797.0,146.2 797.5,147.0 797.9,147.9 798.4,148.8 798.8,149.6 799.2,150.5 799.5,151.5 799.9,152.4 800.2,153.4 800.5,154.4 800.8,155.3 801.1,156.3 801.4,157.3 801.7,158.3 802.0,159.2 802.4,160.2 802.7,161.1 803.1,162.1 803.5,163.0 803.9,163.8 804.4,164.7 804.9,165.5 805.4,166.4 805.9,167.2 806.4,168.1 807.0,168.9 807.6,169.7 808.2,170.5 808.8,171.3 809.5,172.1 810.1,172.9 810.8,173.7 811.5,174.5 812.2,175.2 812.9,176.0 813.6,176.7 814.3,177.4 815.0,178.1 815.7,178.7 816.5,179.4 817.2,180.2 818.0,180.9 818.8,181.7 819.7,182.4 820.5,183.1 821.4,183.6 822.2,183.9 823.0,184.0 823.8,183.8 824.7,183.4 825.5,182.7 826.3,181.9 827.0,181.1 827.7,180.3 828.4,179.6 829.1,178.8 829.7,178.1 830.3,177.4 830.9,176.6 831.6,175.8 832.1,175.0 832.7,174.2 833.3,173.4 833.8,172.5 834.3,171.6 834.8,170.7 835.3,169.8 835.8,168.9 836.2,168.0 836.6,167.0 837.0,166.0" fill="none" stroke="#20603e" stroke-width="4.00" stroke-dasharray="16.5 15.5" stroke-linejoin="round" stroke-dashoffset="27.3" clip-path="url(#cl)"/>
<polyline points="132.0,635.2 133.0,635.2 134.0,635.1 135.0,635.1 136.0,635.1 137.0,635.0 138.0,635.0 139.0,635.0 140.0,634.9 141.0,634.9 142.0,634.8 143.0,634.8 144.0,634.8 145.0,634.7 146.0,634.7 147.0,634.7 148.0,634.6 149.0,634.6 150.0,634.6 151.0,634.5 152.0,634.5 153.0,634.5 154.0,634.4 155.0,634.4 156.0,634.4 157.0,634.3 158.0,634.3 159.0,634.2 160.0,634.2 161.0,634.2 162.0,634.1 163.0,634.1 164.0,634.0 165.0,634.0 166.0,634.0 167.0,633.9 168.0,633.9 169.0,633.8 170.0,633.8 171.0,633.7 172.0,633.7 173.0,633.7 174.0,633.6 175.0,633.6 176.0,633.5 177.0,633.5 178.1,633.4 179.1,633.4 180.1,633.3 181.1,633.3 182.1,633.2 183.1,633.2 184.1,633.1 185.1,633.1 186.1,633.0 187.1,633.0 188.1,632.9 189.1,632.9 190.1,632.8 191.1,632.8 192.1,632.7 193.1,632.6 194.1,632.6 195.1,632.5 196.1,632.5 197.1,632.4 198.1,632.4 199.1,632.3 200.1,632.2 201.1,632.2 202.1,632.1 203.1,632.1 204.1,632.0 205.1,631.9 206.1,631.9 207.1,631.8 208.1,631.8 209.1,631.7 210.1,631.6 211.1,631.6 212.1,631.5 213.1,631.4 214.1,631.4 215.1,631.3 216.1,631.2 217.1,631.2 218.1,631.1 219.1,631.0 220.1,631.0 221.1,630.9 222.1,630.8 223.1,630.7 224.1,630.6 225.0,630.6 226.0,630.5 227.0,630.4 228.0,630.3 229.0,630.2 230.0,630.2 231.0,630.1 232.0,630.0 233.0,629.9 234.0,629.8 235.0,629.7 236.0,629.6 237.0,629.5 238.0,629.5 239.0,629.4 240.0,629.3 241.0,629.2 242.0,629.1 243.0,629.0 244.0,628.9 245.0,628.8 246.0,628.7 247.0,628.6 248.0,628.5 249.0,628.4 250.0,628.3 251.0,628.2 252.0,628.1 253.0,628.0 254.0,627.9 255.0,627.8 256.0,627.6 257.0,627.5 258.0,627.4 259.0,627.3 259.9,627.2 260.9,627.1 261.9,626.9 262.9,626.8 263.9,626.6 264.9,626.5 265.9,626.4 266.9,626.2 267.9,626.1 268.9,625.9 269.9,625.8 270.9,625.7 271.9,625.5 272.9,625.4 273.8,625.3 274.8,625.2 275.8,625.1 276.8,625.0 277.8,624.9 278.8,624.8 279.8,624.7 280.8,624.6 281.8,624.6 282.8,624.5 283.8,624.4 284.8,624.3 285.8,624.2 286.8,624.0 287.8,623.9 288.8,623.8 289.8,623.7 290.8,623.5 291.8,623.4 292.8,623.3 293.8,623.1 294.8,623.0 295.7,622.8 296.7,622.7 297.7,622.5 298.7,622.4 299.7,622.2 300.7,622.1 301.7,621.9 302.7,621.8 303.7,621.7 304.7,621.5 305.7,621.4 306.7,621.3 307.7,621.1 308.6,621.0 309.6,620.9 310.6,620.7 311.6,620.6 312.6,620.5 313.6,620.3 314.6,620.1 315.6,620.0 316.6,619.8 317.5,619.6 318.5,619.4 319.5,619.2 320.5,619.0 321.5,618.8 322.4,618.6 323.4,618.4 324.4,618.1 325.4,617.9 326.4,617.7 327.3,617.5 328.3,617.3 329.3,617.1 330.3,616.8 331.3,616.6 332.2,616.4 333.2,616.2 334.2,616.0 335.2,615.8 336.2,615.6 337.2,615.4 338.1,615.2 339.1,615.0 340.1,614.8 341.1,614.6 342.0,614.4 343.0,614.2 344.0,613.9 345.0,613.7 345.9,613.4 346.9,613.2 347.9,612.9 348.8,612.7 349.8,612.4 350.8,612.1 351.7,611.8 352.7,611.5 353.7,611.3 354.6,611.0 355.6,610.7 356.5,610.4 357.5,610.1 358.4,609.8 359.4,609.5 360.3,609.2 361.3,608.8 362.2,608.5 363.2,608.2 364.1,607.9 365.1,607.5 366.0,607.2 367.0,606.8 367.9,606.5 368.8,606.2 369.8,605.8 370.7,605.4 371.7,605.1 372.6,604.7 373.5,604.4 374.5,604.0 375.4,603.6 376.3,603.2 377.2,602.8 378.2,602.5 379.1,602.1 380.0,601.7 380.9,601.3 381.8,600.9 382.8,600.5 383.7,600.0 384.6,599.6 385.5,599.2 386.4,598.8 387.3,598.4 388.2,598.0 389.1,597.5 390.0,597.1 390.9,596.7 391.8,596.2 392.7,595.8 393.6,595.3 394.5,594.9 395.4,594.4 396.3,594.0 397.2,593.5 398.1,593.1 399.0,592.6 399.9,592.1 400.7,591.6 401.6,591.2 402.5,590.7 403.4,590.2 404.3,589.7 405.1,589.2 406.0,588.7 406.9,588.2 407.7,587.7 408.6,587.2 409.5,586.7 410.3,586.2 411.2,585.7 412.1,585.2 412.9,584.7 413.8,584.2 414.7,583.7 415.6,583.2 416.4,582.7 417.3,582.3 418.2,581.8 419.1,581.3 419.9,580.8 420.8,580.3 421.7,579.8 422.6,579.3 423.4,578.8 424.3,578.3 425.2,577.8 426.0,577.3 426.9,576.8 427.8,576.3 428.6,575.8 429.5,575.3 430.3,574.8 431.2,574.3 432.1,573.7 432.9,573.2 433.8,572.7 434.6,572.2 435.5,571.6 436.3,571.1 437.2,570.5 438.0,570.0 438.8,569.4 439.7,568.9 440.5,568.3 441.3,567.8 442.1,567.2 443.0,566.6 443.8,566.0 444.6,565.5 445.4,564.9 446.2,564.3 447.0,563.7 447.8,563.1 448.6,562.4 449.4,561.8 450.2,561.2 451.0,560.6 451.7,560.0 452.5,559.3 453.3,558.7 454.1,558.1 454.8,557.4 455.6,556.8 456.4,556.1 457.1,555.5 457.9,554.8 458.7,554.2 459.4,553.5 460.2,552.9 460.9,552.2 461.7,551.5 462.4,550.9 463.2,550.2 463.9,549.5 464.6,548.8 465.4,548.1 466.1,547.5 466.8,546.8 467.6,546.1 468.3,545.4 469.0,544.7 469.7,544.0 470.4,543.2 471.1,542.5 471.8,541.8 472.5,541.1 473.2,540.4 473.8,539.6 474.5,538.9 475.2,538.1 475.8,537.4 476.5,536.6 477.2,535.9 477.8,535.1 478.5,534.4 479.1,533.6 479.8,532.8 480.4,532.1 481.1,531.3 481.7,530.5 482.4,529.8 483.0,529.0 483.7,528.3 484.3,527.5 485.0,526.7 485.6,526.0 486.3,525.2 486.9,524.4 487.6,523.7 488.2,522.9 488.9,522.1 489.5,521.4 490.2,520.6 490.8,519.8 491.4,519.1 492.1,518.3 492.7,517.5 493.4,516.8 494.0,516.0 494.6,515.2 495.3,514.4 495.9,513.7 496.5,512.9 497.2,512.1 497.8,511.3 498.4,510.5 499.1,509.8 499.7,509.0 500.3,508.2 500.9,507.4 501.5,506.6 502.2,505.8 502.8,505.0 503.4,504.3 504.0,503.5 504.6,502.7 505.2,501.9 505.8,501.1 506.5,500.3 507.1,499.5 507.7,498.7 508.3,497.9 508.9,497.1 509.5,496.3 510.1,495.5 510.8,494.8 511.4,494.0 512.0,493.2 512.6,492.4 513.3,491.6 513.9,490.9 514.5,490.1 515.2,489.3 515.8,488.5 516.5,487.8 517.1,487.0 517.8,486.3 518.5,485.5 519.1,484.7 519.8,484.0 520.4,483.2 521.1,482.5 521.7,481.7 522.4,480.9 523.0,480.2 523.7,479.4 524.3,478.6 524.9,477.8 525.5,477.1 526.1,476.3 526.7,475.5 527.3,474.7 527.9,473.8 528.5,473.0 529.1,472.2 529.6,471.4 530.2,470.6 530.7,469.7 531.3,468.9 531.8,468.0 532.3,467.2 532.9,466.3 533.4,465.5 533.9,464.6 534.5,463.8 535.0,462.9 535.5,462.1 536.1,461.2 536.6,460.4 537.1,459.5 537.6,458.7 538.2,457.8 538.7,457.0 539.2,456.1 539.8,455.3 540.3,454.4 540.8,453.6 541.4,452.7 541.9,451.9 542.5,451.0 543.0,450.2 543.6,449.4 544.1,448.5 544.7,447.7 545.2,446.9 545.8,446.0 546.3,445.2 546.9,444.3 547.4,443.5 548.0,442.7 548.5,441.8 549.1,441.0 549.6,440.2 550.2,439.3 550.7,438.5 551.3,437.7 551.8,436.8 552.4,436.0 552.9,435.1 553.5,434.3 554.0,433.5 554.6,432.6 555.1,431.8 555.7,430.9 556.2,430.1 556.7,429.2 557.3,428.4 557.8,427.5 558.3,426.7 558.8,425.8 559.4,425.0 559.9,424.1 560.4,423.3 560.9,422.4 561.5,421.6 562.0,420.7 562.5,419.9 563.0,419.0 563.6,418.1 564.1,417.3 564.6,416.4 565.1,415.6 565.7,414.7 566.2,413.9 566.8,413.1 567.3,412.2 567.8,411.4 568.4,410.5 568.9,409.7 569.5,408.9 570.1,408.0 570.6,407.2 571.2,406.4 571.8,405.6 572.3,404.7 572.9,403.9 573.5,403.1 574.1,402.3 574.7,401.5 575.3,400.7 575.8,399.9 576.4,399.1 577.0,398.2 577.6,397.4 578.2,396.6 578.8,395.8 579.4,395.0 580.0,394.2 580.6,393.4 581.2,392.6 581.8,391.8 582.4,391.0 583.0,390.2 583.5,389.4 584.1,388.5 584.7,387.7 585.3,386.9 585.9,386.1 586.5,385.3 587.1,384.5 587.6,383.7 588.2,382.8 588.8,382.0 589.4,381.2 590.0,380.4 590.6,379.6 591.2,378.8 591.7,378.0 592.3,377.1 592.9,376.3 593.5,375.5 594.1,374.7 594.7,373.9 595.3,373.1 595.9,372.3 596.6,371.6 597.2,370.8 597.8,370.0 598.4,369.2 599.1,368.4 599.7,367.7 600.4,366.9 601.0,366.2 601.7,365.4 602.3,364.7 603.0,363.9 603.7,363.2 604.4,362.4 605.0,361.7 605.7,360.9 606.4,360.2 607.0,359.4 607.7,358.7 608.4,357.9 609.0,357.2 609.7,356.4 610.3,355.7 611.0,354.9 611.6,354.1 612.3,353.4 612.9,352.6 613.5,351.8 614.1,351.0 614.8,350.2 615.4,349.5 616.0,348.7 616.6,347.9 617.3,347.1 617.9,346.3 618.5,345.5 619.1,344.7 619.7,343.9 620.3,343.1 620.9,342.3 621.5,341.5 622.1,340.7 622.7,339.9 623.3,339.1 623.9,338.3 624.5,337.5 625.0,336.6 625.6,335.8 626.2,335.0 626.8,334.2 627.3,333.4 627.9,332.5 628.4,331.7 629.0,330.9 629.5,330.0 630.1,329.2 630.6,328.3 631.2,327.5 631.7,326.7 632.2,325.8 632.8,325.0 633.3,324.1 633.8,323.3 634.4,322.4 634.9,321.5 635.4,320.7 635.9,319.8 636.5,319.0 637.0,318.1 637.5,317.2 638.0,316.4 638.5,315.5 639.0,314.7 639.5,313.8 640.0,312.9 640.5,312.1 641.0,311.2 641.5,310.3 642.0,309.4 642.4,308.5 642.9,307.7 643.4,306.8 643.8,305.9 644.3,305.0 644.8,304.1 645.2,303.2 645.7,302.3 646.1,301.4 646.6,300.5 647.0,299.6 647.5,298.7 647.9,297.9 648.4,297.0 648.9,296.1 649.3,295.2 649.8,294.3 650.2,293.4 650.7,292.5 651.2,291.6 651.7,290.7 652.1,289.9 652.6,289.0 653.1,288.1 653.6,287.2 654.1,286.4 654.6,285.5 655.1,284.6 655.6,283.8 656.1,282.9 656.6,282.0 657.1,281.1 657.6,280.3 658.1,279.4 658.6,278.5 659.1,277.7 659.6,276.8 660.2,275.9 660.7,275.1 661.2,274.2 661.7,273.4 662.3,272.5 662.8,271.7 663.4,270.8 663.9,270.0 664.5,269.2 665.0,268.3 665.6,267.5 666.2,266.7 666.8,265.9 667.3,265.1 667.9,264.3 668.5,263.5 669.2,262.7 669.8,261.9 670.4,261.2 671.0,260.4 671.7,259.6 672.3,258.8 673.0,258.0 673.7,257.3 674.3,256.5 675.0,255.7 675.7,255.0 676.4,254.3 677.1,253.5 677.9,252.8 678.6,252.1 679.3,251.5 680.1,250.8 680.8,250.2 681.6,249.6 682.3,249.0 683.1,248.4 683.9,247.8 684.7,247.2 685.6,246.7 686.4,246.1 687.3,245.6 688.1,245.1 689.0,244.5 689.9,244.0 690.8,243.6 691.7,243.1 692.6,242.6 693.5,242.2 694.4,241.8 695.4,241.4 696.3,241.0 697.2,240.7 698.1,240.4 699.1,240.1 700.0,239.8 701.0,239.5 702.0,239.3 702.9,239.0 703.9,238.8 704.9,238.5 705.9,238.3 706.9,238.0 707.8,237.8 708.8,237.5 709.8,237.2 710.7,236.9 711.7,236.6 712.7,236.3 713.7,236.1 714.6,235.8 715.6,235.5 716.6,235.2 717.6,234.9 718.6,234.5 719.5,234.2 720.5,233.9 721.4,233.5 722.3,233.1 723.2,232.7 724.0,232.3 724.8,231.9 725.6,231.4 726.4,230.8 727.1,230.2 727.8,229.6 728.5,228.9 729.2,228.1 729.9,227.4 730.5,226.6 731.2,225.8 731.8,225.0 732.5,224.2 733.1,223.3 733.7,222.5 734.4,221.7 735.0,220.9 735.7,220.1 736.4,219.3 737.1,218.6 737.8,217.9 738.5,217.2 739.3,216.5 740.0,215.8 740.8,215.1 741.6,214.3 742.3,213.6 743.1,212.8 743.9,212.0 744.7,211.3 745.5,210.5 746.4,209.9 747.2,209.2 748.0,208.6 748.9,208.1 749.7,207.7 750.6,207.4 751.5,207.1 752.4,207.0 753.3,207.0 754.2,207.0 755.2,207.1 756.2,207.2 757.2,207.2 758.3,207.4 759.3,207.5 760.4,207.7 761.5,207.8 762.5,208.0 763.5,208.2 764.5,208.4 765.4,208.6 766.3,208.8 767.1,209.1 767.9,209.4 768.7,209.8 769.5,210.3 770.2,210.8 770.9,211.5 771.5,212.2 772.2,212.9 772.9,213.7 773.5,214.6 774.1,215.5 774.8,216.4 775.4,217.3 776.0,218.2 776.7,219.1 777.3,219.9 778.0,220.8 778.7,221.6 779.4,222.4 780.1,223.1 780.8,223.8 781.6,224.4 782.4,225.1 783.1,225.8 783.9,226.5 784.8,227.2 785.6,227.9 786.4,228.7 787.3,229.3 788.1,230.0 789.0,230.6 789.8,231.2 790.7,231.7 791.6,232.1 792.5,232.5 793.4,232.8 794.3,232.9 795.2,233.0 796.1,233.0 797.0,232.9 797.9,232.7 798.9,232.5 799.8,232.3 800.8,232.0 801.8,231.7 802.8,231.3 803.8,231.0 804.7,230.6 805.7,230.2 806.7,229.9 807.7,229.5 808.6,229.2 809.6,228.9 810.6,228.6 811.5,228.2 812.4,227.9 813.4,227.6 814.3,227.2 815.3,226.8 816.2,226.5 817.1,226.1 818.1,225.7 819.0,225.4 820.0,225.1 820.9,224.7 821.9,224.4 822.8,224.2 823.8,223.9 824.7,223.6 825.7,223.4 826.7,223.2 827.6,222.9 828.6,222.7 829.6,222.5 830.6,222.3 831.6,222.1 832.5,221.9 833.5,221.7 834.5,221.5 835.5,221.3 836.5,221.2 837.5,221.0" fill="none" stroke="#7e2f8e" stroke-width="4.00" stroke-linejoin="round" />
<rect x="125.3" y="628.5" width="13.4" height="13.4" fill="#7e2f8e"/><rect x="139.4" y="628.0" width="13.4" height="13.4" fill="#7e2f8e"/><rect x="153.5" y="627.5" width="13.4" height="13.4" fill="#7e2f8e"/><rect x="167.6" y="626.9" width="13.4" height="13.4" fill="#7e2f8e"/><rect x="181.7" y="626.2" width="13.4" height="13.4" fill="#7e2f8e"/><rect x="195.9" y="625.4" width="13.4" height="13.4" fill="#7e2f8e"/><rect x="210.0" y="624.5" width="13.4" height="13.4" fill="#7e2f8e"/><rect x="224.1" y="623.4" width="13.4" height="13.4" fill="#7e2f8e"/><rect x="238.2" y="622.1" width="13.4" height="13.4" fill="#7e2f8e"/><rect x="252.3" y="620.6" width="13.4" height="13.4" fill="#7e2f8e"/><rect x="266.4" y="618.7" width="13.4" height="13.4" fill="#7e2f8e"/><rect x="280.5" y="617.3" width="13.4" height="13.4" fill="#7e2f8e"/><rect x="294.6" y="615.3" width="13.4" height="13.4" fill="#7e2f8e"/><rect x="308.7" y="613.3" width="13.4" height="13.4" fill="#7e2f8e"/><rect x="322.8" y="610.3" width="13.4" height="13.4" fill="#7e2f8e"/><rect x="336.9" y="607.3" width="13.4" height="13.4" fill="#7e2f8e"/><rect x="351.1" y="603.3" width="13.4" height="13.4" fill="#7e2f8e"/><rect x="365.2" y="598.3" width="13.4" height="13.4" fill="#7e2f8e"/><rect x="379.3" y="592.3" width="13.4" height="13.4" fill="#7e2f8e"/><rect x="393.4" y="585.3" width="13.4" height="13.4" fill="#7e2f8e"/><rect x="407.5" y="577.3" width="13.4" height="13.4" fill="#7e2f8e"/><rect x="421.6" y="569.3" width="13.4" height="13.4" fill="#7e2f8e"/><rect x="435.7" y="560.3" width="13.4" height="13.4" fill="#7e2f8e"/><rect x="449.8" y="549.3" width="13.4" height="13.4" fill="#7e2f8e"/><rect x="463.9" y="536.3" width="13.4" height="13.4" fill="#7e2f8e"/><rect x="478.1" y="520.3" width="13.4" height="13.4" fill="#7e2f8e"/><rect x="492.2" y="503.3" width="13.4" height="13.4" fill="#7e2f8e"/><rect x="506.3" y="485.3" width="13.4" height="13.4" fill="#7e2f8e"/><rect x="520.4" y="468.3" width="13.4" height="13.4" fill="#7e2f8e"/><rect x="534.5" y="446.3" width="13.4" height="13.4" fill="#7e2f8e"/><rect x="548.6" y="424.8" width="13.4" height="13.4" fill="#7e2f8e"/><rect x="562.7" y="402.3" width="13.4" height="13.4" fill="#7e2f8e"/><rect x="576.8" y="382.7" width="13.4" height="13.4" fill="#7e2f8e"/><rect x="590.9" y="363.5" width="13.4" height="13.4" fill="#7e2f8e"/><rect x="605.0" y="347.3" width="13.4" height="13.4" fill="#7e2f8e"/><rect x="619.1" y="328.8" width="13.4" height="13.4" fill="#7e2f8e"/><rect x="633.3" y="306.3" width="13.4" height="13.4" fill="#7e2f8e"/><rect x="647.4" y="279.7" width="13.4" height="13.4" fill="#7e2f8e"/><rect x="661.5" y="257.3" width="13.4" height="13.4" fill="#7e2f8e"/><rect x="675.6" y="242.3" width="13.4" height="13.4" fill="#7e2f8e"/><rect x="689.7" y="234.3" width="13.4" height="13.4" fill="#7e2f8e"/><rect x="703.8" y="230.3" width="13.4" height="13.4" fill="#7e2f8e"/><rect x="717.9" y="225.3" width="13.4" height="13.4" fill="#7e2f8e"/><rect x="732.0" y="210.3" width="13.4" height="13.4" fill="#7e2f8e"/><rect x="746.1" y="200.3" width="13.4" height="13.4" fill="#7e2f8e"/><rect x="760.2" y="202.3" width="13.4" height="13.4" fill="#7e2f8e"/><rect x="774.4" y="217.3" width="13.4" height="13.4" fill="#7e2f8e"/><rect x="788.5" y="226.3" width="13.4" height="13.4" fill="#7e2f8e"/><rect x="802.6" y="222.3" width="13.4" height="13.4" fill="#7e2f8e"/><rect x="816.7" y="217.3" width="13.4" height="13.4" fill="#7e2f8e"/><rect x="830.8" y="214.3" width="13.4" height="13.4" fill="#7e2f8e"/>
<g fill="none" stroke="#7a3f72" clip-path="url(#cl)"><path d="M132.5 636.9L137.1 636.9M140.6 636.9L145.3 636.9M148.8 636.9L153.4 636.9M156.9 636.9L161.6 636.9M165.1 636.9L169.7 636.9M173.2 636.9L177.9 636.9M181.4 636.8L186.0 636.8M189.5 636.8L194.2 636.8M197.7 636.8L202.3 636.8M205.8 636.8L210.5 636.7M214.0 636.7L218.6 636.6M222.1 636.5L226.8 636.4M230.3 636.3L234.9 636.2M238.4 636.1L243.1 636.0M246.6 635.9L251.2 635.7M254.7 635.5L259.3 635.2M262.8 635.0L267.4 634.7M270.9 634.5L275.5 634.3M279.0 634.1L283.6 633.9M287.1 633.7L291.8 633.4M295.2 633.2L299.9 632.9M303.3 632.6L307.9 632.3M311.4 631.9L315.9 631.5M319.4 631.1L323.9 630.6M327.4 630.2L331.9 629.6M335.3 629.1L339.8 628.4M343.1 627.9L347.6 627.1M351.0 626.6L355.4 625.8M358.8 625.3L363.2 624.5M366.6 624.0L371.0 623.2M374.4 622.6L378.8 621.8M382.1 621.2L386.5 620.3" stroke-width="4.00"/><path d="M389.9 619.7L394.3 618.9M397.6 618.2L401.9 617.3M405.2 616.6L409.5 615.7M412.8 614.9L417.0 613.9M420.2 613.0L424.4 611.9M427.5 610.9L431.5 609.6M434.5 608.6L438.4 607.2M441.3 606.1L445.0 604.5M688.9 280.9L692.8 279.4M695.7 278.3L699.4 276.8M702.4 275.7L706.1 274.2M749.8 223.0L753.9 222.0M757.1 222.8L760.9 224.3" stroke-width="4.25"/><path d="M447.8 603.3L451.4 601.6M454.0 600.3L457.4 598.5M459.8 597.1L463.0 595.2M465.3 593.7L468.3 591.7M470.6 590.2L473.5 588.1M677.2 287.2L680.2 285.2M682.6 283.8L686.0 282.0M708.7 272.8L711.5 270.8M763.4 225.7L766.3 227.7" stroke-width="4.50"/><path d="M475.6 586.6L478.4 584.5M480.4 582.8L482.9 580.6M484.7 578.9L486.9 576.6M488.6 574.9L491.0 572.7M492.9 571.0L495.4 568.8M497.4 567.1L499.9 564.9M501.7 563.3L504.1 561.0M505.9 559.3L508.3 557.1M510.1 555.4L512.4 553.1M514.1 551.4L516.3 549.1M518.0 547.3L520.0 545.0M521.5 543.2L523.5 540.8M524.9 539.0L526.8 536.6M528.2 534.8L529.9 532.3M582.6 448.1L584.4 445.7M585.8 443.9L587.6 441.5M589.1 439.7L591.0 437.3M592.6 435.5L594.7 433.2M596.3 431.4L598.5 429.1M600.1 427.4L602.2 425.0M603.8 423.2L605.8 420.9M607.2 419.1L609.0 416.7M669.5 295.3L671.4 292.9M672.9 291.1L675.2 288.9M713.3 269.0L715.2 266.7M719.6 260.6L721.3 258.1M731.2 243.4L732.9 240.9M734.3 239.1L736.1 236.7M737.5 234.9L739.5 232.5M741.2 230.8L743.5 228.5M745.2 226.8L747.6 224.5M767.9 229.5L769.8 231.9" stroke-width="4.75"/><path d="M531.3 530.5L533.0 528.1M534.3 526.2L536.0 523.8M537.3 522.0L539.0 519.5M540.2 517.7L541.9 515.2M543.2 513.4L544.8 510.9M546.0 509.1L547.7 506.6M548.9 504.8L550.5 502.3M551.6 500.4L553.2 498.0M554.3 496.1L555.8 493.6M557.0 491.7L558.4 489.3M559.5 487.4L560.9 484.9M561.9 483.0L563.2 480.5M564.1 478.6L565.4 476.0M566.4 474.1L567.7 471.6M568.7 469.7L570.1 467.2M571.2 465.3L572.7 462.9M573.9 461.0L575.5 458.5M576.7 456.7L578.3 454.2M579.6 452.4L581.3 450.0M610.3 414.8L612.0 412.4M613.3 410.5L614.9 408.1M616.1 406.2L617.6 403.7M618.7 401.9L620.1 399.4M621.2 397.5L622.5 395.0M623.5 393.1L624.7 390.5M625.6 388.6L626.8 386.1M627.6 384.2L628.7 381.6M629.5 379.7L630.6 377.1M631.5 375.2L632.6 372.7M633.4 370.8L634.5 368.2M635.3 366.3L636.4 363.7M637.2 361.8L638.3 359.3M639.1 357.3L640.2 354.8M641.0 352.9L642.1 350.3M642.9 348.4L644.1 345.9M644.9 343.9L646.0 341.4M646.9 339.5L648.0 336.9M648.9 335.0L650.1 332.5M650.9 330.6L652.1 328.0M653.0 326.1L654.2 323.6M655.1 321.7L656.3 319.1M657.2 317.2L658.4 314.7M659.3 312.8L660.6 310.3M661.6 308.4L662.9 305.9M664.0 304.0L665.5 301.5M666.7 299.6L668.2 297.2M716.6 264.8L718.3 262.4M722.6 256.3L724.2 253.8M725.4 252.0L726.9 249.5M728.2 247.6L729.9 245.2M771.1 233.7L772.8 236.2M774.0 238.0L775.6 240.5M776.8 242.3L778.2 244.8M779.2 246.7L780.6 249.2M781.5 251.1L782.8 253.7M783.8 255.6L785.0 258.1M786.0 260.0L787.2 262.5M788.1 264.4L789.2 267.0M790.1 268.9L791.2 271.4M792.1 273.4L793.1 275.9M793.9 277.8L794.9 280.4M795.7 282.3L796.6 284.9M797.2 286.8L798.1 289.4M798.8 291.3L799.8 293.9M800.5 295.8L801.6 298.4M802.4 300.3L803.6 302.9M804.6 304.8L805.8 307.3M806.8 309.2L808.2 311.7M809.2 313.6L810.6 316.1M811.7 318.0L813.1 320.5M814.1 322.3L815.6 324.8M816.7 326.7L818.2 329.2M819.4 331.1L821.0 333.5M822.1 335.4L823.7 337.9M824.8 339.7L826.4 342.2M827.5 344.1L829.1 346.5M830.2 348.4L831.8 350.9M832.9 352.7L834.5 355.2M835.7 357.1L837.0 359.2" stroke-width="5.00"/></g>
<polyline points="132.5,636.9 133.5,636.9 134.5,636.9 135.5,636.9 136.5,636.9 137.5,636.9 138.5,636.9 139.5,636.9 140.5,636.9 141.5,636.9 142.5,636.9 143.5,636.9 144.5,636.9 145.5,636.9 146.5,636.9 147.5,636.9 148.5,636.9 149.5,636.9 150.5,636.9 151.5,636.9 152.5,636.9 153.5,636.9 154.5,636.9 155.5,636.9 156.5,636.9 157.5,636.9 158.5,636.9 159.5,636.9 160.5,636.9 161.5,636.9 162.5,636.9 163.5,636.9 164.5,636.9 165.5,636.9 166.5,636.9 167.5,636.9 168.5,636.9 169.5,636.9 170.5,636.9 171.5,636.9 172.5,636.9 173.5,636.9 174.5,636.9 175.5,636.9 176.5,636.9 177.5,636.9 178.5,636.9 179.6,636.9 180.6,636.8 181.6,636.8 182.6,636.8 183.6,636.8 184.6,636.8 185.6,636.8 186.6,636.8 187.6,636.8 188.6,636.8 189.6,636.8 190.6,636.8 191.6,636.8 192.6,636.8 193.6,636.8 194.6,636.8 195.6,636.8 196.6,636.8 197.6,636.8 198.6,636.8 199.6,636.8 200.6,636.8 201.6,636.8 202.6,636.8 203.6,636.8 204.6,636.8 205.6,636.8 206.6,636.8 207.6,636.8 208.6,636.7 209.6,636.7 210.6,636.7 211.6,636.7 212.6,636.7 213.6,636.7 214.6,636.7 215.6,636.6 216.6,636.6 217.6,636.6 218.6,636.6 219.6,636.6 220.6,636.6 221.6,636.5 222.6,636.5 223.6,636.5 224.6,636.5 225.6,636.5 226.6,636.4 227.6,636.4 228.6,636.4 229.6,636.4 230.6,636.3 231.6,636.3 232.6,636.3 233.6,636.3 234.6,636.2 235.6,636.2 236.6,636.2 237.6,636.2 238.6,636.1 239.6,636.1 240.6,636.1 241.6,636.1 242.6,636.0 243.6,636.0 244.6,635.9 245.6,635.9 246.6,635.9 247.6,635.8 248.6,635.8 249.6,635.7 250.6,635.7 251.6,635.6 252.6,635.6 253.6,635.5 254.6,635.5 255.6,635.4 256.6,635.4 257.6,635.3 258.6,635.2 259.6,635.2 260.6,635.1 261.6,635.1 262.6,635.0 263.6,634.9 264.6,634.9 265.6,634.8 266.6,634.8 267.6,634.7 268.6,634.6 269.6,634.6 270.6,634.5 271.6,634.5 272.6,634.4 273.6,634.4 274.6,634.3 275.6,634.3 276.6,634.2 277.6,634.2 278.6,634.1 279.6,634.1 280.6,634.0 281.6,634.0 282.6,633.9 283.6,633.9 284.6,633.8 285.6,633.8 286.6,633.7 287.6,633.7 288.6,633.6 289.6,633.5 290.6,633.5 291.6,633.4 292.6,633.4 293.6,633.3 294.6,633.3 295.6,633.2 296.6,633.1 297.6,633.1 298.6,633.0 299.6,632.9 300.6,632.9 301.6,632.8 302.6,632.7 303.6,632.6 304.6,632.5 305.6,632.5 306.6,632.4 307.6,632.3 308.6,632.2 309.6,632.1 310.6,632.0 311.6,631.9 312.6,631.8 313.5,631.7 314.5,631.6 315.5,631.5 316.5,631.4 317.5,631.3 318.5,631.2 319.5,631.1 320.5,631.0 321.5,630.8 322.5,630.7 323.5,630.6 324.5,630.5 325.5,630.4 326.5,630.3 327.5,630.1 328.5,630.0 329.5,629.9 330.5,629.8 331.4,629.6 332.4,629.5 333.4,629.3 334.4,629.2 335.4,629.1 336.4,628.9 337.4,628.8 338.4,628.6 339.4,628.5 340.4,628.3 341.3,628.1 342.3,628.0 343.3,627.8 344.3,627.7 345.3,627.5 346.3,627.3 347.3,627.2 348.3,627.0 349.2,626.8 350.2,626.7 351.2,626.5 352.2,626.4 353.2,626.2 354.2,626.0 355.2,625.9 356.2,625.7 357.2,625.6 358.1,625.4 359.1,625.2 360.1,625.1 361.1,624.9 362.1,624.7 363.1,624.6 364.1,624.4 365.1,624.2 366.0,624.1 367.0,623.9 368.0,623.7 369.0,623.5 370.0,623.4 371.0,623.2 372.0,623.0 372.9,622.8 373.9,622.7 374.9,622.5 375.9,622.3 376.9,622.1 377.9,621.9 378.8,621.8 379.8,621.6 380.8,621.4 381.8,621.2 382.8,621.0 383.8,620.8 384.8,620.7 385.7,620.5 386.7,620.3 387.7,620.1 388.7,619.9 389.7,619.7 390.7,619.6 391.6,619.4 392.6,619.2 393.6,619.0 394.6,618.8 395.6,618.6 396.6,618.4 397.5,618.2 398.5,618.0 399.5,617.8 400.5,617.6 401.5,617.4 402.5,617.2 403.4,617.0 404.4,616.8 405.4,616.6 406.4,616.4 407.3,616.2 408.3,616.0 409.3,615.7 410.3,615.5 411.2,615.3 412.2,615.1 413.2,614.8 414.2,614.6 415.1,614.3 416.1,614.1 417.1,613.9 418.0,613.6 419.0,613.3 420.0,613.1 421.0,612.8 421.9,612.6 422.9,612.3 423.8,612.0 424.8,611.7 425.8,611.4 426.7,611.2 427.7,610.9 428.7,610.6 429.6,610.3 430.6,610.0 431.5,609.6 432.5,609.3 433.4,609.0 434.3,608.7 435.3,608.4 436.2,608.0 437.2,607.7 438.1,607.3 439.0,607.0 440.0,606.6 440.9,606.2 441.8,605.9 442.8,605.5 443.7,605.1 444.6,604.7 445.5,604.3 446.5,603.9 447.4,603.5 448.3,603.1 449.2,602.6 450.1,602.2 451.0,601.8 451.9,601.3 452.8,600.9 453.7,600.5 454.6,600.0 455.5,599.6 456.3,599.1 457.2,598.6 458.1,598.1 458.9,597.6 459.8,597.0 460.6,596.5 461.5,596.0 462.3,595.4 463.2,594.9 464.0,594.3 464.9,593.8 465.7,593.3 466.6,592.8 467.4,592.2 468.3,591.7 469.2,591.3 470.0,590.8 470.9,590.3 471.8,589.8 472.7,589.4 473.6,588.9 474.5,588.4 475.4,588.0 476.3,587.5 477.2,587.0 478.0,586.6 478.9,586.1 479.8,585.6 480.7,585.1 481.5,584.6 482.4,584.1 483.2,583.6 484.1,583.0 484.9,582.5 485.8,581.9 486.6,581.4 487.4,580.8 488.2,580.3 489.1,579.7 489.9,579.1 490.7,578.5 491.5,577.9 492.3,577.3 493.0,576.7 493.8,576.0 494.6,575.4 495.4,574.8 496.1,574.1 496.9,573.5 497.7,572.8 498.4,572.2 499.2,571.5 499.9,570.8 500.7,570.2 501.4,569.5 502.2,568.8 502.9,568.2 503.7,567.5 504.4,566.9 505.2,566.2 506.0,565.5 506.7,564.9 507.5,564.2 508.2,563.5 509.0,562.9 509.8,562.2 510.5,561.5 511.3,560.9 512.0,560.2 512.7,559.5 513.5,558.8 514.2,558.1 514.9,557.4 515.6,556.7 516.3,556.0 517.0,555.3 517.7,554.6 518.4,553.8 519.0,553.1 519.7,552.4 520.3,551.6 520.9,550.9 521.6,550.1 522.2,549.3 522.8,548.6 523.4,547.8 524.0,547.0 524.6,546.2 525.2,545.4 525.7,544.6 526.3,543.7 526.9,542.9 527.5,542.1 528.0,541.3 528.6,540.4 529.1,539.6 529.7,538.7 530.2,537.9 530.8,537.0 531.3,536.2 531.8,535.3 532.4,534.5 532.9,533.6 533.4,532.8 534.0,531.9 534.5,531.0 535.0,530.2 535.5,529.3 536.1,528.4 536.6,527.6 537.1,526.7 537.6,525.9 538.2,525.0 538.7,524.1 539.2,523.3 539.7,522.4 540.3,521.6 540.8,520.7 541.3,519.9 541.8,519.0 542.3,518.2 542.8,517.3 543.4,516.5 543.9,515.6 544.4,514.7 544.9,513.9 545.4,513.0 545.9,512.1 546.4,511.3 546.9,510.4 547.4,509.5 547.9,508.7 548.4,507.8 548.9,506.9 549.4,506.0 549.8,505.2 550.3,504.3 550.8,503.4 551.3,502.6 551.8,501.7 552.3,500.8 552.8,499.9 553.3,499.1 553.8,498.2 554.2,497.3 554.7,496.4 555.2,495.6 555.7,494.7 556.2,493.8 556.7,492.9 557.2,492.1 557.7,491.2 558.1,490.3 558.6,489.4 559.1,488.6 559.6,487.7 560.1,486.8 560.6,485.9 561.1,485.1 561.6,484.2 562.0,483.3 562.5,482.4 563.0,481.5 563.5,480.7 564.0,479.8 564.4,478.9 564.9,478.0 565.4,477.1 565.9,476.3 566.3,475.4 566.8,474.5 567.3,473.6 567.8,472.7 568.3,471.8 568.7,471.0 569.2,470.1 569.7,469.2 570.2,468.4 570.7,467.5 571.2,466.6 571.7,465.8 572.2,464.9 572.7,464.0 573.3,463.2 573.8,462.3 574.3,461.5 574.8,460.7 575.4,459.8 575.9,459.0 576.5,458.1 577.0,457.2 577.5,456.4 578.1,455.5 578.7,454.7 579.2,453.9 579.8,453.0 580.4,452.2 580.9,451.4 581.5,450.6 582.1,449.7 582.7,448.9 583.3,448.2 584.0,447.4 584.6,446.6 585.2,445.9 585.9,445.1 586.5,444.4 587.2,443.7 587.9,443.0 588.6,442.3 589.3,441.6 590.1,440.9 590.8,440.2 591.5,439.5 592.3,438.8 593.1,438.2 593.9,437.5 594.6,436.9 595.4,436.2 596.2,435.6 597.0,435.0 597.9,434.4 598.7,433.9 599.5,433.3 600.3,432.8 601.2,432.3 602.1,431.8 603.0,431.4 603.9,431.0 604.9,430.6 605.8,430.2 606.8,429.8 607.7,429.4 608.6,429.0 609.5,428.5 610.4,428.0 611.2,427.5 612.0,427.0 612.7,426.4 613.5,425.8 614.2,425.2 614.9,424.5 615.6,423.8 616.2,423.0 616.9,422.3 617.5,421.5 618.2,420.7 618.8,419.8 619.4,419.0 620.0,418.2 620.6,417.3 621.2,416.4 621.7,415.6 622.3,414.7 622.8,413.9 623.4,413.0 623.9,412.2 624.4,411.3 624.9,410.5 625.3,409.6 625.8,408.7 626.2,407.8 626.7,406.9 627.1,406.0 627.5,405.1 627.9,404.2 628.4,403.2 628.8,402.3 629.2,401.4 629.7,400.5 630.1,399.6 630.6,398.7 631.0,397.8 631.5,397.0 631.9,396.1 632.4,395.2 632.8,394.3 633.3,393.4 633.7,392.5 634.2,391.6 634.6,390.7 635.1,389.8 635.5,388.9 636.0,388.0 636.4,387.1 636.9,386.2 637.3,385.3 637.8,384.4 638.2,383.5 638.7,382.6 639.1,381.7 639.6,380.8 640.0,379.9 640.4,379.0 640.9,378.1 641.3,377.2 641.7,376.3 642.2,375.4 642.6,374.5 643.0,373.6 643.5,372.7 644.0,371.8 644.4,371.0 644.9,370.1 645.4,369.2 645.8,368.3 646.3,367.4 646.8,366.5 647.3,365.6 647.8,364.7 648.2,363.9 648.7,363.0 649.3,362.1 649.8,361.2 650.3,360.4 650.8,359.5 651.4,358.7 651.9,357.9 652.5,357.1 653.1,356.3 653.7,355.5 654.3,354.7 654.9,353.9 655.6,353.2 656.2,352.4 656.9,351.6 657.6,350.8 658.3,350.1 659.0,349.3 659.7,348.6 660.5,347.9 661.2,347.2 662.0,346.6 662.7,345.9 663.5,345.4 664.3,344.8 665.1,344.3 666.0,343.9 666.8,343.4 667.7,343.0 668.6,342.5 669.5,342.1 670.4,341.8 671.4,341.4 672.3,341.0 673.3,340.7 674.2,340.3 675.2,340.0 676.2,339.7 677.2,339.4 678.1,339.1 679.1,338.8 680.1,338.5 681.0,338.2 682.0,338.0 683.0,337.7 684.0,337.5 685.0,337.3 686.1,337.2 687.1,337.0 688.1,336.8 689.1,336.6 690.1,336.4 691.1,336.2 692.0,335.9 692.9,335.7 693.8,335.4 694.7,335.0 695.5,334.7 696.3,334.2 697.1,333.7 697.8,333.1 698.5,332.4 699.3,331.7 700.0,331.0 700.6,330.2 701.3,329.4 702.0,328.6 702.7,327.8 703.4,327.0 704.1,326.2 704.8,325.4 705.5,324.7 706.3,324.0 707.0,323.3 707.8,322.7 708.5,322.0 709.3,321.3 710.1,320.6 710.8,319.9 711.6,319.2 712.4,318.5 713.2,317.8 714.0,317.2 714.8,316.6 715.6,316.1 716.5,315.6 717.3,315.2 718.2,314.9 719.1,314.6 720.0,314.3 721.0,314.0 722.0,313.7 723.0,313.5 724.0,313.2 725.0,313.0 726.1,312.8 727.1,312.7 728.1,312.5 729.0,312.4 730.0,312.4 730.9,312.4 731.8,312.6 732.8,312.9 733.7,313.4 734.7,313.9 735.6,314.5 736.5,315.2 737.3,315.9 738.0,316.6 738.7,317.3 739.3,318.0 739.9,318.7 740.4,319.4 740.9,320.3 741.4,321.1 741.8,322.0 742.2,323.0 742.7,323.9 743.1,324.9 743.4,325.9 743.8,326.9 744.2,327.8 744.6,328.8 745.1,329.7 745.5,330.6 745.9,331.5 746.3,332.4 746.7,333.4 747.1,334.3 747.5,335.2 747.9,336.1 748.3,337.0 748.7,337.9 749.1,338.9 749.5,339.8 749.9,340.7 750.3,341.6 750.7,342.5 751.1,343.5 751.5,344.4 751.9,345.3 752.3,346.2 752.6,347.1 753.0,348.1 753.4,349.0 753.8,349.9 754.2,350.8 754.6,351.7 755.0,352.7 755.4,353.6 755.9,354.5 756.3,355.4 756.7,356.3 757.1,357.2 757.5,358.1 757.9,359.1 758.3,360.0 758.7,360.9 759.1,361.8 759.5,362.7 759.9,363.6 760.3,364.6 760.7,365.5 761.1,366.4 761.5,367.3 761.9,368.3 762.2,369.2 762.6,370.1 762.9,371.1 763.3,372.0 763.6,372.9 763.9,373.9 764.2,374.8 764.5,375.8 764.9,376.7 765.2,377.7 765.5,378.6 765.7,379.6 766.0,380.6 766.3,381.5 766.6,382.5 766.9,383.4 767.2,384.4 767.5,385.4 767.8,386.3 768.0,387.3 768.3,388.2 768.6,389.2 768.9,390.2 769.2,391.1 769.5,392.1 769.8,393.0 770.1,394.0 770.3,395.0 770.6,395.9 770.9,396.9 771.2,397.8 771.5,398.8 771.8,399.7 772.1,400.7 772.4,401.6 772.7,402.6 773.0,403.6 773.3,404.5 773.6,405.5 773.9,406.4 774.2,407.4 774.5,408.3 774.8,409.3 775.1,410.2 775.4,411.2 775.7,412.2 776.0,413.1 776.3,414.1 776.6,415.0 776.9,416.0 777.2,416.9 777.5,417.9 777.8,418.8 778.1,419.8 778.4,420.8 778.7,421.7 779.0,422.7 779.3,423.6 779.6,424.6 779.9,425.5 780.2,426.5 780.5,427.4 780.8,428.4 781.1,429.4 781.4,430.3 781.7,431.3 782.0,432.2 782.3,433.2 782.6,434.1 782.9,435.1 783.2,436.0 783.5,437.0 783.8,438.0 784.1,438.9 784.4,439.9 784.6,440.8 784.9,441.8 785.2,442.7 785.5,443.7 785.8,444.7 786.1,445.6 786.4,446.6 786.6,447.6 786.9,448.5 787.2,449.5 787.4,450.5 787.7,451.4 788.0,452.4 788.3,453.3 788.5,454.3 788.8,455.3 789.1,456.2 789.4,457.2 789.6,458.2 789.9,459.1 790.2,460.1 790.5,461.0 790.8,462.0 791.1,463.0 791.4,463.9 791.7,464.9 792.0,465.8 792.3,466.8 792.6,467.7 793.0,468.6 793.3,469.6 793.6,470.5 794.0,471.5 794.3,472.4 794.6,473.4 795.0,474.3 795.3,475.3 795.7,476.2 796.0,477.1 796.4,478.1 796.8,479.0 797.1,480.0 797.5,480.9 797.9,481.8 798.3,482.7 798.7,483.7 799.1,484.6 799.5,485.5 799.9,486.4 800.3,487.3 800.8,488.2 801.2,489.1 801.6,490.0 802.1,490.9 802.5,491.9 803.0,492.9 803.4,493.9 803.9,494.8 804.4,495.8 804.9,496.8 805.4,497.7 806.0,498.5 806.5,499.3 807.2,500.0 807.8,500.7 808.5,501.2 809.2,501.6 810.1,502.0 811.1,502.4 812.1,502.7 813.1,502.8 814.0,502.7 814.9,502.4 815.7,502.0 816.6,501.4 817.4,500.8 818.2,500.1 819.0,499.3 819.9,498.5 820.7,497.8 821.5,497.1 822.4,496.4 823.2,495.9 824.1,495.6 825.0,495.4 825.9,495.3 826.9,495.2 827.8,495.2 828.8,495.1 829.8,495.0 830.8,495.0 831.8,494.9 832.8,494.9 833.8,494.8 834.9,494.8 835.9,494.8 837.0,494.8" fill="none" stroke="#c000c0" stroke-width="4.00" stroke-dasharray="16.5 15.5" stroke-linejoin="round" stroke-dashoffset="25" clip-path="url(#cl)"/>
</g>
<g font-size="35.75" font-weight="bold" fill="#262626"><text transform="translate(132.50,685.00) scale(1.0000,1.0500)" font-size="35.75" text-anchor="middle" >100</text><text transform="translate(273.42,685.00) scale(1.0000,1.0500)" font-size="35.75" text-anchor="middle" >150</text><text transform="translate(414.34,685.00) scale(1.0000,1.0500)" font-size="35.75" text-anchor="middle" >200</text><text transform="translate(555.26,685.00) scale(1.0000,1.0500)" font-size="35.75" text-anchor="middle" >250</text><text transform="translate(696.18,685.00) scale(1.0000,1.0500)" font-size="35.75" text-anchor="middle" >300</text><text transform="translate(119.00,651.80) scale(1.0000,1.0500)" font-size="35.75" text-anchor="end" >0</text><text transform="translate(117.40,527.08) scale(1.0000,1.0500)" font-size="35.75" text-anchor="end" >0.2</text><text transform="translate(117.40,402.96) scale(1.0000,1.0500)" font-size="35.75" text-anchor="end" >0.4</text><text transform="translate(117.40,278.84) scale(1.0000,1.0500)" font-size="35.75" text-anchor="end" >0.6</text><text transform="translate(117.40,154.72) scale(1.0000,1.0500)" font-size="35.75" text-anchor="end" >0.8</text><text transform="translate(119.40,29.50) scale(1.0000,1.0500)" font-size="35.75" text-anchor="end" >1</text></g>
<text transform="translate(484.90,733.90) scale(1.0000,1.0200)" font-size="39.00" text-anchor="middle" font-weight="bold" fill="#262626">t</text>
<g transform="translate(33.5,348.6) rotate(-90) scale(0.95,1.07)" font-weight="bold" fill="#262626"><text font-size="39">B</text><text x="30.3" y="18.5" font-size="30">x</text></g>
<text x="464.6" y="62.9" font-size="40" fill="#111111" textLength="53" lengthAdjust="spacingAndGlyphs">(a)</text>
<g id="left-legend" font-weight="bold" fill="#000000">
<line x1="156.6" y1="61.9" x2="225.5" y2="61.9" stroke="#0a7d0a" stroke-width="4.0"/>
<polygon points="191.0,49.4 179.2,68.7 202.8,68.7" fill="#0a7d0a"/>
<text transform="translate(231,66.3) scale(1,1.05)" font-size="29" textLength="127" lengthAdjust="spacingAndGlyphs">case 3 B</text>
<text x="359.6" y="80.8" font-size="23" textLength="73.5" lengthAdjust="spacingAndGlyphs">x,max</text>
<line x1="156.6" y1="116.1" x2="225.5" y2="116.1" stroke="#77ac30" stroke-width="4.7" stroke-dasharray="5.0 3.15"/>
<text transform="translate(231,120.2) scale(1,1.05)" font-size="29" textLength="127" lengthAdjust="spacingAndGlyphs">case 3 B</text>
<text x="359.6" y="134.7" font-size="23" textLength="87.0" lengthAdjust="spacingAndGlyphs">x1,max</text>
<line x1="156.6" y1="168.8" x2="225.5" y2="168.8" stroke="#20603e" stroke-width="4.0" stroke-dasharray="17.5 15"/>
<text transform="translate(231,174.6) scale(1,1.05)" font-size="29" textLength="127" lengthAdjust="spacingAndGlyphs">case 3 B</text>
<text x="359.6" y="189.1" font-size="23" textLength="87.0" lengthAdjust="spacingAndGlyphs">x2,max</text>
<line x1="156.6" y1="223.0" x2="225.5" y2="223.0" stroke="#7e2f8e" stroke-width="4.0"/>
<rect x="184.3" y="216.3" width="13.4" height="13.4" fill="#7e2f8e"/>
<text transform="translate(231,227.5) scale(1,1.05)" font-size="29" textLength="127" lengthAdjust="spacingAndGlyphs">case 4 B</text>
<text x="359.6" y="242.0" font-size="23" textLength="73.5" lengthAdjust="spacingAndGlyphs">x,max</text>
<line x1="156.6" y1="275.9" x2="225.5" y2="275.9" stroke="#7a3f72" stroke-width="4.7" stroke-dasharray="5.0 3.15"/>
<text transform="translate(231,281.6) scale(1,1.05)" font-size="29" textLength="127" lengthAdjust="spacingAndGlyphs">case 4 B</text>
<text x="359.6" y="296.1" font-size="23" textLength="87.0" lengthAdjust="spacingAndGlyphs">x1,max</text>
<line x1="156.6" y1="329.6" x2="225.5" y2="329.6" stroke="#c000c0" stroke-width="4.0" stroke-dasharray="17.5 15"/>
<text transform="translate(231,335.5) scale(1,1.05)" font-size="29" textLength="127" lengthAdjust="spacingAndGlyphs">case 4 B</text>
<text x="359.6" y="350.0" font-size="23" textLength="87.0" lengthAdjust="spacingAndGlyphs">x2,max</text>
</g>
</g>
<g id="right-panel">
<line x1="1246.7" y1="15.5" x2="1246.7" y2="636.3" stroke="#262626" stroke-opacity="0.17" stroke-width="1.25"/><line x1="1432.5" y1="15.5" x2="1432.5" y2="636.3" stroke="#262626" stroke-opacity="0.17" stroke-width="1.25"/><line x1="1618.2" y1="15.5" x2="1618.2" y2="636.3" stroke="#262626" stroke-opacity="0.17" stroke-width="1.25"/><line x1="1061.0" y1="621.9" x2="1765.5" y2="621.9" stroke="#262626" stroke-opacity="0.17" stroke-width="1.25"/><line x1="1061.0" y1="470.0" x2="1765.5" y2="470.0" stroke="#262626" stroke-opacity="0.17" stroke-width="1.25"/><line x1="1061.0" y1="318.1" x2="1765.5" y2="318.1" stroke="#262626" stroke-opacity="0.17" stroke-width="1.25"/><line x1="1061.0" y1="166.2" x2="1765.5" y2="166.2" stroke="#262626" stroke-opacity="0.17" stroke-width="1.25"/>
<line x1="1061.0" y1="636.3" x2="1061.0" y2="629.8" stroke="#262626" stroke-width="1.3"/><line x1="1061.0" y1="15.5" x2="1061.0" y2="22.0" stroke="#262626" stroke-width="1.3"/><line x1="1246.7" y1="636.3" x2="1246.7" y2="629.8" stroke="#262626" stroke-width="1.3"/><line x1="1246.7" y1="15.5" x2="1246.7" y2="22.0" stroke="#262626" stroke-width="1.3"/><line x1="1432.5" y1="636.3" x2="1432.5" y2="629.8" stroke="#262626" stroke-width="1.3"/><line x1="1432.5" y1="15.5" x2="1432.5" y2="22.0" stroke="#262626" stroke-width="1.3"/><line x1="1618.2" y1="636.3" x2="1618.2" y2="629.8" stroke="#262626" stroke-width="1.3"/><line x1="1618.2" y1="15.5" x2="1618.2" y2="22.0" stroke="#262626" stroke-width="1.3"/><line x1="1061.0" y1="621.9" x2="1067.5" y2="621.9" stroke="#262626" stroke-width="1.3"/><line x1="1765.5" y1="621.9" x2="1759.0" y2="621.9" stroke="#262626" stroke-width="1.3"/><line x1="1061.0" y1="470.0" x2="1067.5" y2="470.0" stroke="#262626" stroke-width="1.3"/><line x1="1765.5" y1="470.0" x2="1759.0" y2="470.0" stroke="#262626" stroke-width="1.3"/><line x1="1061.0" y1="318.1" x2="1067.5" y2="318.1" stroke="#262626" stroke-width="1.3"/><line x1="1765.5" y1="318.1" x2="1759.0" y2="318.1" stroke="#262626" stroke-width="1.3"/><line x1="1061.0" y1="166.2" x2="1067.5" y2="166.2" stroke="#262626" stroke-width="1.3"/><line x1="1765.5" y1="166.2" x2="1759.0" y2="166.2" stroke="#262626" stroke-width="1.3"/><line x1="1061.0" y1="15.5" x2="1067.5" y2="15.5" stroke="#262626" stroke-width="1.3"/><line x1="1765.5" y1="15.5" x2="1759.0" y2="15.5" stroke="#262626" stroke-width="1.3"/><rect x="1061.0" y="15.5" width="704.5" height="620.8" fill="none" stroke="#262626" stroke-width="1.4"/>
<g id="right-curves">
<g fill="none" stroke="#77ac30" clip-path="url(#cr)"><path d="M1069.1 636.4L1073.7 636.5M1077.2 636.7L1081.9 636.8M1085.4 636.9L1090.0 637.0M1093.5 637.0L1098.2 637.0M1101.7 637.0L1106.3 637.0M1109.8 637.0L1114.5 637.0M1118.0 637.0L1122.6 637.0M1126.1 637.0L1130.8 636.8M1134.3 636.7L1138.9 636.6M1142.4 636.5L1147.0 636.5M1150.5 636.6L1155.2 636.8M1158.7 636.9L1163.3 636.9M1166.7 636.6L1171.3 636.1M1174.7 635.7L1179.3 635.2M1182.8 635.0L1187.4 635.0M1190.9 635.0L1195.6 635.0M1199.1 635.0L1203.7 634.6M1207.1 634.3L1211.7 633.8M1215.1 633.4L1219.7 632.9M1223.0 632.3L1227.5 631.6M1230.9 631.1L1235.3 630.4M1295.3 597.8L1299.8 597.1M1303.1 596.5L1307.6 595.8M1311.0 595.3L1315.6 595.0M1319.1 595.0L1323.7 595.0M1327.2 595.0L1331.9 595.0M1335.4 594.8L1340.0 594.5M1343.5 594.4L1348.1 594.1M1410.6 578.5L1415.2 578.0M1418.6 577.7L1423.2 577.2M1426.6 576.7L1431.1 576.0M1434.4 575.5L1438.9 574.8" stroke-width="4.00"/><path d="M1238.6 629.7L1242.7 628.4M1245.7 627.4L1249.7 626.1M1252.8 625.2L1256.7 623.8M1351.5 593.7L1355.8 592.8M1359.1 592.1L1363.5 591.1M1366.7 590.4L1370.9 589.3M1374.0 588.3L1378.0 587.0M1381.1 586.1L1385.1 584.8M1388.2 583.8L1392.4 582.7M1395.5 581.9L1399.7 580.7M1402.9 579.9L1407.2 578.9M1442.3 574.2L1446.1 572.8M1651.7 168.6L1655.7 169.9M1658.8 170.9L1662.9 172.1M1687.9 263.0L1691.9 261.7M1694.9 260.7L1698.9 259.3M1701.9 258.3L1705.9 257.0" stroke-width="4.25"/><path d="M1278.0 607.3L1281.2 605.4M1283.6 604.0L1286.8 602.1M1289.3 600.7L1292.5 598.8M1448.8 571.6L1452.3 569.9M1455.0 568.6L1458.5 566.9M1461.2 565.6L1464.2 563.6M1577.2 460.2L1580.0 458.1M1582.1 456.6L1584.9 454.5M1587.0 452.9L1589.8 450.8M1665.9 173.1L1668.7 174.9" stroke-width="4.50"/><path d="M1258.7 622.2L1261.4 620.0M1263.4 618.4L1266.1 616.3M1268.1 614.6L1270.8 612.5M1272.8 610.9L1275.5 608.8M1466.2 562.0L1468.9 559.8M1470.9 558.2L1473.6 556.1M1475.6 554.5L1478.3 552.3M1480.3 550.7L1482.9 548.5M1484.8 546.9L1487.4 544.7M1489.3 543.0L1491.9 540.9M1493.8 539.2L1496.4 537.0M1498.3 535.4L1500.8 533.2M1502.7 531.5L1505.2 529.3M1507.1 527.6L1509.7 525.4M1511.6 523.8L1514.1 521.6M1516.0 519.9L1518.5 517.7M1520.3 516.0L1522.7 513.8M1524.5 512.1L1526.9 509.8M1528.7 508.1L1531.1 505.9M1532.9 504.2L1535.3 501.9M1537.1 500.2L1539.4 498.0M1541.1 496.2L1543.3 493.9M1545.0 492.2L1547.3 489.9M1549.0 488.2L1551.3 485.9M1553.0 484.2L1555.2 481.9M1556.9 480.2L1559.2 477.9M1560.9 476.1L1563.1 473.8M1564.8 472.1L1567.1 469.8M1568.8 468.1L1571.1 465.8M1572.8 464.1L1575.1 461.8M1591.9 449.2L1594.1 446.9" stroke-width="4.75"/><path d="M1595.0 445.0L1596.3 442.5M1597.3 440.6L1598.6 438.1M1599.6 436.2L1600.8 433.7M1601.8 431.8L1603.1 429.3M1604.1 427.3L1605.3 424.8M1606.3 422.9L1607.6 420.4M1608.6 418.5L1609.8 416.0M1610.8 414.1L1612.1 411.6M1612.6 409.6L1613.0 407.0M1613.4 405.0L1613.8 402.4M1614.2 400.5L1614.6 397.8M1615.0 395.9L1615.5 393.3M1615.8 391.3L1616.3 388.7M1616.6 386.7L1617.1 384.1M1617.4 382.1L1617.9 379.5M1618.3 377.6L1618.7 375.0M1619.1 373.0L1619.5 370.4M1619.9 368.4L1620.4 365.8M1620.7 363.8L1621.2 361.2M1621.5 359.3L1622.0 356.7M1622.3 354.7L1622.8 352.1M1623.1 350.1L1623.6 347.5M1624.0 345.5L1624.4 342.9M1624.8 341.0L1625.2 338.3M1625.6 336.4L1626.1 333.8M1626.4 331.8L1626.9 329.2M1627.2 327.2L1627.7 324.6M1628.0 322.6L1628.5 320.0M1628.9 318.1L1629.3 315.5M1629.7 313.5L1630.1 310.9M1630.5 308.9L1630.9 306.3M1631.2 304.3L1631.6 301.7M1631.8 299.8L1632.2 297.1M1632.5 295.2L1632.8 292.5M1633.1 290.6L1633.4 288.0M1633.7 286.0L1634.1 283.4M1634.3 281.4L1634.7 278.8M1635.0 276.8L1635.3 274.2M1635.6 272.2L1635.9 269.6M1636.2 267.6L1636.6 265.0M1636.8 263.1L1637.2 260.4M1637.5 258.5L1637.8 255.9M1638.1 253.9L1638.4 251.3M1638.7 249.3L1639.1 246.7M1639.3 244.7L1639.7 242.1M1639.9 240.1L1640.3 237.5M1640.6 235.5L1640.9 232.9M1641.2 231.0L1641.5 228.3M1641.8 226.4L1642.2 223.8M1642.4 221.8L1642.8 219.2M1643.1 217.2L1643.4 214.6M1643.7 212.6L1644.0 210.0M1644.3 208.0L1644.7 205.4M1644.9 203.4L1645.3 200.8M1645.5 198.8L1645.9 196.2M1646.2 194.3L1646.5 191.6M1646.8 189.7L1647.1 187.1M1647.4 185.1L1647.8 182.5M1648.0 180.5L1648.4 177.9M1648.7 175.9L1649.0 173.3M1649.3 171.3L1649.6 168.7M1669.1 176.8L1669.6 179.4M1670.0 181.4L1670.6 184.0M1671.0 186.0L1671.5 188.6M1672.0 190.5L1672.5 193.1M1672.9 195.1L1673.5 197.7M1673.9 199.7L1674.4 202.3M1674.8 204.2L1675.4 206.8M1675.8 208.8L1676.3 211.4M1676.7 213.4L1677.3 216.0M1677.7 217.9L1678.2 220.6M1678.7 222.5L1679.2 225.1M1679.6 227.1L1680.2 229.7M1680.6 231.7L1681.1 234.3M1681.5 236.2L1682.1 238.8M1682.5 240.8L1683.0 243.4M1683.4 245.4L1684.0 248.0M1684.4 249.9L1685.0 252.5M1685.4 254.5L1685.9 257.1M1686.3 259.1L1686.9 261.7M1706.3 255.0L1706.7 252.4M1707.1 250.5L1707.6 247.8M1707.9 245.9L1708.4 243.3M1708.8 241.3L1709.2 238.7M1709.6 236.7L1710.1 234.1M1710.4 232.2L1710.9 229.5M1711.3 227.6L1711.7 225.0M1712.1 223.0L1712.6 220.4M1712.9 218.4L1713.4 215.8M1713.7 213.8L1714.2 211.2M1714.6 209.3L1715.0 206.7M1715.4 204.7L1715.9 202.1M1716.2 200.1L1716.7 197.5M1717.1 195.5L1717.5 192.9M1717.9 191.0L1718.4 188.4M1718.7 186.4L1719.2 183.8M1719.6 181.8L1720.0 179.2M1720.4 177.2L1720.9 174.6M1721.2 172.7L1721.7 170.1M1722.0 168.1L1722.5 165.5M1722.9 163.5L1723.3 160.9M1723.7 158.9L1724.2 156.3M1724.5 154.4L1725.0 151.7M1725.3 149.8L1725.8 147.2M1726.1 145.2L1726.6 142.6M1726.9 140.6L1727.4 138.0M1727.8 136.0L1728.2 133.4M1728.6 131.5L1729.0 128.9M1729.4 126.9L1729.8 124.3M1730.2 122.3L1730.6 119.7M1731.0 117.7L1731.4 115.1M1731.8 113.2L1732.2 110.6M1732.6 108.6L1733.0 106.0M1733.4 104.0L1733.8 101.4M1734.2 99.4L1734.7 96.8M1735.0 94.9L1735.5 92.2M1735.8 90.3L1736.3 87.7M1736.6 85.7L1737.1 83.1M1737.4 81.1L1737.9 78.5M1738.2 76.5L1738.7 73.9M1739.0 72.0L1739.5 69.4M1739.8 67.4L1740.3 64.8M1740.6 62.8L1741.1 60.2M1741.4 58.2L1741.9 55.6M1742.2 53.7L1742.7 51.0M1743.1 49.1L1743.7 47.9M1744.6 49.8L1745.8 52.4M1746.7 54.3L1747.8 56.8M1748.7 58.7L1749.9 61.3M1750.8 63.2L1752.0 65.7M1752.9 67.6L1754.1 70.2M1754.9 72.1L1756.1 74.6M1757.0 76.5L1758.2 79.1M1759.1 81.0L1760.3 83.5M1761.1 85.4L1762.1 88.0M1762.2 90.0L1762.4 92.6M1762.5 94.5L1762.6 97.2M1762.7 99.1L1762.8 101.8M1762.9 103.7L1763.1 106.4M1763.2 108.3L1763.3 111.0M1763.4 112.9L1763.6 115.6M1763.7 117.5L1763.8 120.2M1763.9 122.1L1764.0 124.8M1764.1 126.7L1764.3 129.4M1764.4 131.3L1764.5 134.0M1764.6 135.9L1764.7 138.6M1764.9 140.5L1765.0 143.2M1765.1 145.1L1765.2 147.7M1765.3 149.7L1765.5 152.3M1765.6 154.3L1765.6 155.0" stroke-width="5.00"/></g>
<g clip-path="url(#crm)"><polygon points="1056.6,636.4 1075.3,625.2 1075.3,647.5" fill="#77ac30"/><polygon points="1075.4,637.0 1094.1,625.9 1094.1,648.1" fill="#77ac30"/><polygon points="1094.1,637.0 1112.8,625.9 1112.8,648.1" fill="#77ac30"/><polygon points="1112.8,637.0 1131.5,625.9 1131.5,648.1" fill="#77ac30"/><polygon points="1131.6,636.4 1150.3,625.2 1150.3,647.5" fill="#77ac30"/><polygon points="1150.3,637.0 1169.0,625.9 1169.0,648.1" fill="#77ac30"/><polygon points="1169.0,635.0 1187.7,623.9 1187.7,646.1" fill="#77ac30"/><polygon points="1187.7,635.0 1206.4,623.9 1206.4,646.1" fill="#77ac30"/><polygon points="1206.5,633.0 1225.2,621.9 1225.2,644.1" fill="#77ac30"/><polygon points="1225.2,630.0 1243.9,618.9 1243.9,641.1" fill="#77ac30"/><polygon points="1243.9,624.0 1262.6,612.9 1262.6,635.1" fill="#77ac30"/><polygon points="1262.7,609.0 1281.4,597.9 1281.4,620.1" fill="#77ac30"/><polygon points="1281.4,598.0 1300.1,586.9 1300.1,609.1" fill="#77ac30"/><polygon points="1300.1,595.0 1318.8,583.9 1318.8,606.1" fill="#77ac30"/><polygon points="1318.9,595.0 1337.6,583.9 1337.6,606.1" fill="#77ac30"/><polygon points="1337.6,594.0 1356.3,582.9 1356.3,605.1" fill="#77ac30"/><polygon points="1356.3,590.0 1375.0,578.9 1375.0,601.1" fill="#77ac30"/><polygon points="1375.0,584.0 1393.7,572.9 1393.7,595.1" fill="#77ac30"/><polygon points="1393.8,579.0 1412.5,567.9 1412.5,590.1" fill="#77ac30"/><polygon points="1412.5,577.0 1431.2,565.9 1431.2,588.1" fill="#77ac30"/><polygon points="1431.2,574.0 1449.9,562.9 1449.9,585.1" fill="#77ac30"/><polygon points="1450.0,565.0 1468.7,553.9 1468.7,576.1" fill="#77ac30"/><polygon points="1468.7,550.0 1487.4,538.9 1487.4,561.1" fill="#77ac30"/><polygon points="1487.4,534.0 1506.1,522.9 1506.1,545.1" fill="#77ac30"/><polygon points="1506.2,517.6 1524.9,506.5 1524.9,528.8" fill="#77ac30"/><polygon points="1524.9,500.0 1543.6,488.9 1543.6,511.1" fill="#77ac30"/><polygon points="1543.6,481.0 1562.3,469.9 1562.3,492.1" fill="#77ac30"/><polygon points="1562.3,462.0 1581.0,450.9 1581.0,473.1" fill="#77ac30"/><polygon points="1581.1,448.0 1599.8,436.9 1599.8,459.1" fill="#77ac30"/><polygon points="1599.8,411.2 1618.5,400.1 1618.5,422.3" fill="#77ac30"/><polygon points="1618.5,306.0 1637.2,294.9 1637.2,317.1" fill="#77ac30"/><polygon points="1637.3,168.0 1656.0,156.8 1656.0,179.2" fill="#77ac30"/><polygon points="1656.0,173.9 1674.7,162.8 1674.7,185.1" fill="#77ac30"/><polygon points="1674.7,263.2 1693.4,252.0 1693.4,274.3" fill="#77ac30"/><polygon points="1693.5,257.0 1712.2,245.8 1712.2,268.1" fill="#77ac30"/><polygon points="1712.2,153.7 1730.9,142.5 1730.9,164.8" fill="#77ac30"/><polygon points="1730.9,47.2 1749.6,36.1 1749.6,58.4" fill="#77ac30"/><polygon points="1749.6,87.5 1768.3,76.3 1768.3,98.7" fill="#77ac30"/></g>
<polyline points="1061.0,636.5 1062.0,636.5 1063.0,636.5 1064.0,636.5 1065.0,636.4 1066.0,636.4 1067.0,636.4 1068.0,636.4 1069.0,636.4 1070.0,636.3 1071.0,636.3 1072.0,636.3 1073.0,636.3 1074.0,636.2 1075.0,636.2 1076.0,636.2 1077.0,636.1 1078.0,636.1 1079.0,636.0 1080.0,636.0 1081.0,636.0 1082.0,635.9 1083.0,635.9 1084.0,635.8 1085.0,635.8 1086.0,635.7 1087.0,635.7 1088.0,635.6 1089.0,635.6 1090.0,635.5 1091.0,635.5 1092.0,635.4 1093.0,635.4 1094.0,635.3 1095.0,635.3 1096.0,635.2 1097.0,635.2 1098.0,635.1 1099.0,635.1 1100.0,635.0 1101.0,634.9 1102.0,634.9 1103.0,634.8 1104.0,634.8 1105.0,634.7 1106.0,634.6 1107.0,634.5 1108.0,634.5 1109.0,634.4 1110.0,634.3 1111.0,634.2 1112.0,634.1 1113.0,634.0 1114.0,634.0 1115.0,633.9 1116.0,633.8 1117.0,633.7 1118.0,633.6 1119.0,633.5 1120.0,633.4 1121.0,633.3 1122.0,633.2 1123.0,633.1 1124.0,632.9 1125.0,632.8 1126.0,632.7 1127.0,632.6 1128.0,632.5 1129.0,632.4 1130.0,632.3 1131.0,632.1 1131.9,632.0 1132.9,631.9 1133.9,631.8 1134.9,631.6 1135.9,631.5 1136.9,631.4 1137.9,631.3 1138.9,631.1 1139.9,631.0 1140.9,630.9 1141.9,630.7 1142.9,630.6 1143.8,630.4 1144.8,630.2 1145.8,630.1 1146.8,629.9 1147.8,629.7 1148.8,629.5 1149.8,629.3 1150.7,629.1 1151.7,628.9 1152.7,628.7 1153.7,628.5 1154.7,628.2 1155.7,628.0 1156.6,627.8 1157.6,627.6 1158.6,627.4 1159.6,627.3 1160.6,627.1 1161.6,626.9 1162.5,626.7 1163.5,626.6 1164.5,626.4 1165.5,626.3 1166.5,626.2 1167.5,626.1 1168.5,626.0 1169.5,625.9 1170.5,625.8 1171.5,625.7 1172.5,625.6 1173.5,625.5 1174.5,625.4 1175.5,625.3 1176.5,625.2 1177.4,625.1 1178.4,625.0 1179.4,624.9 1180.4,624.8 1181.4,624.8 1182.4,624.7 1183.4,624.6 1184.4,624.5 1185.5,624.5 1186.5,624.4 1187.5,624.3 1188.5,624.3 1189.5,624.2 1190.5,624.2 1191.5,624.1 1192.5,624.1 1193.5,624.1 1194.5,624.0 1195.5,624.0 1196.5,624.0 1197.5,624.0 1198.5,624.0 1199.5,624.0 1200.5,624.0 1201.5,624.0 1202.5,624.1 1203.5,624.1 1204.5,624.2 1205.5,624.2 1206.5,624.3 1207.5,624.3 1208.5,624.4 1209.5,624.4 1210.5,624.5 1211.5,624.6 1212.5,624.6 1213.5,624.7 1214.5,624.8 1215.5,624.9 1216.5,624.9 1217.5,625.0 1218.5,625.1 1219.5,625.1 1220.5,625.2 1221.5,625.2 1222.5,625.3 1223.5,625.3 1224.5,625.4 1225.5,625.4 1226.5,625.4 1227.5,625.5 1228.5,625.5 1229.5,625.5 1230.5,625.5 1231.5,625.5 1232.5,625.5 1233.5,625.5 1234.5,625.5 1235.5,625.5 1236.5,625.5 1237.5,625.5 1238.5,625.5 1239.5,625.4 1240.5,625.4 1241.5,625.4 1242.5,625.4 1243.5,625.4 1244.5,625.4 1245.5,625.3 1246.5,625.3 1247.5,625.3 1248.5,625.3 1249.5,625.3 1250.5,625.2 1251.5,625.2 1252.5,625.2 1253.5,625.2 1254.5,625.1 1255.5,625.1 1256.5,625.1 1257.5,625.0 1258.5,625.0 1259.5,625.0 1260.5,624.9 1261.5,624.9 1262.5,624.8 1263.5,624.7 1264.5,624.6 1265.4,624.5 1266.4,624.4 1267.4,624.2 1268.4,624.1 1269.4,623.9 1270.4,623.7 1271.4,623.5 1272.4,623.4 1273.3,623.2 1274.3,622.9 1275.3,622.7 1276.3,622.5 1277.3,622.3 1278.2,622.1 1279.2,621.8 1280.2,621.6 1281.2,621.3 1282.2,621.1 1283.1,620.8 1284.1,620.6 1285.1,620.3 1286.1,620.1 1287.1,619.8 1288.0,619.6 1289.0,619.3 1290.0,619.1 1291.0,618.8 1291.9,618.6 1292.9,618.3 1293.9,618.1 1294.9,617.9 1295.8,617.6 1296.8,617.4 1297.8,617.2 1298.8,617.0 1299.7,616.7 1300.7,616.5 1301.7,616.3 1302.7,616.0 1303.6,615.8 1304.6,615.5 1305.6,615.3 1306.6,615.1 1307.5,614.8 1308.5,614.6 1309.5,614.3 1310.4,614.1 1311.4,613.8 1312.4,613.5 1313.3,613.3 1314.3,613.0 1315.3,612.8 1316.3,612.5 1317.2,612.2 1318.2,611.9 1319.1,611.7 1320.1,611.4 1321.1,611.1 1322.0,610.8 1323.0,610.5 1323.9,610.3 1324.9,610.0 1325.9,609.7 1326.8,609.4 1327.8,609.1 1328.7,608.8 1329.7,608.5 1330.6,608.1 1331.5,607.8 1332.5,607.5 1333.4,607.1 1334.4,606.7 1335.3,606.4 1336.2,606.0 1337.2,605.6 1338.1,605.3 1339.0,604.9 1340.0,604.5 1340.9,604.1 1341.8,603.7 1342.7,603.3 1343.7,603.0 1344.6,602.6 1345.5,602.2 1346.5,601.8 1347.4,601.4 1348.3,601.1 1349.3,600.7 1350.2,600.3 1351.1,600.0 1352.1,599.6 1353.0,599.3 1353.9,599.0 1354.9,598.7 1355.8,598.4 1356.8,598.1 1357.7,597.8 1358.7,597.5 1359.7,597.2 1360.6,597.0 1361.6,596.7 1362.6,596.5 1363.5,596.2 1364.5,596.0 1365.5,595.7 1366.4,595.5 1367.4,595.3 1368.4,595.0 1369.4,594.8 1370.3,594.6 1371.3,594.4 1372.3,594.2 1373.3,593.9 1374.3,593.7 1375.2,593.5 1376.2,593.3 1377.2,593.1 1378.2,592.9 1379.2,592.6 1380.2,592.4 1381.1,592.2 1382.1,592.0 1383.1,591.8 1384.1,591.5 1385.0,591.3 1386.0,591.1 1387.0,590.9 1388.0,590.6 1388.9,590.4 1389.9,590.1 1390.9,589.9 1391.8,589.6 1392.8,589.3 1393.8,589.1 1394.7,588.8 1395.7,588.5 1396.6,588.2 1397.6,587.9 1398.6,587.6 1399.5,587.3 1400.5,587.0 1401.4,586.7 1402.4,586.4 1403.3,586.1 1404.3,585.8 1405.2,585.4 1406.2,585.1 1407.1,584.8 1408.1,584.4 1409.0,584.1 1409.9,583.8 1410.9,583.4 1411.8,583.1 1412.8,582.7 1413.7,582.4 1414.7,582.0 1415.6,581.7 1416.5,581.3 1417.5,581.0 1418.4,580.6 1419.3,580.3 1420.3,579.9 1421.2,579.5 1422.1,579.2 1423.1,578.8 1424.0,578.5 1424.9,578.1 1425.9,577.7 1426.8,577.4 1427.8,577.0 1428.7,576.6 1429.6,576.3 1430.6,575.9 1431.5,575.5 1432.4,575.1 1433.4,574.7 1434.3,574.4 1435.2,574.0 1436.2,573.6 1437.1,573.2 1438.0,572.8 1438.9,572.4 1439.8,572.0 1440.8,571.6 1441.7,571.2 1442.6,570.7 1443.5,570.3 1444.4,569.9 1445.3,569.4 1446.2,569.0 1447.1,568.5 1447.9,568.1 1448.8,567.6 1449.7,567.2 1450.6,566.7 1451.4,566.2 1452.3,565.7 1453.1,565.2 1454.0,564.7 1454.8,564.2 1455.7,563.7 1456.5,563.1 1457.4,562.6 1458.2,562.0 1459.0,561.5 1459.8,560.9 1460.7,560.3 1461.5,559.8 1462.3,559.2 1463.1,558.6 1464.0,558.0 1464.8,557.4 1465.6,556.8 1466.4,556.2 1467.2,555.6 1468.0,555.0 1468.8,554.4 1469.6,553.8 1470.4,553.1 1471.2,552.5 1472.0,551.9 1472.8,551.3 1473.6,550.7 1474.4,550.1 1475.2,549.4 1476.0,548.8 1476.7,548.2 1477.5,547.6 1478.3,547.0 1479.1,546.3 1479.9,545.7 1480.7,545.1 1481.4,544.5 1482.2,543.8 1483.0,543.2 1483.8,542.6 1484.5,541.9 1485.3,541.3 1486.1,540.6 1486.8,540.0 1487.6,539.3 1488.4,538.7 1489.1,538.0 1489.9,537.3 1490.6,536.7 1491.4,536.0 1492.1,535.3 1492.9,534.7 1493.6,534.0 1494.4,533.3 1495.1,532.6 1495.8,532.0 1496.6,531.3 1497.3,530.6 1498.0,529.9 1498.7,529.2 1499.5,528.5 1500.2,527.8 1500.9,527.1 1501.6,526.4 1502.3,525.7 1503.0,525.0 1503.7,524.3 1504.3,523.5 1505.0,522.8 1505.7,522.1 1506.4,521.3 1507.0,520.6 1507.7,519.8 1508.4,519.1 1509.0,518.3 1509.7,517.5 1510.3,516.8 1511.0,516.0 1511.7,515.3 1512.3,514.5 1513.0,513.7 1513.6,513.0 1514.3,512.2 1515.0,511.5 1515.6,510.7 1516.3,510.0 1517.0,509.2 1517.6,508.5 1518.3,507.8 1519.0,507.0 1519.7,506.3 1520.4,505.6 1521.1,504.9 1521.8,504.2 1522.5,503.5 1523.2,502.8 1523.9,502.1 1524.7,501.3 1525.4,500.6 1526.1,499.8 1526.8,499.1 1527.5,498.3 1528.2,497.5 1528.9,496.8 1529.7,496.0 1530.4,495.2 1531.1,494.5 1531.8,493.7 1532.6,493.0 1533.3,492.3 1534.0,491.5 1534.8,490.8 1535.5,490.1 1536.3,489.4 1537.0,488.8 1537.8,488.1 1538.6,487.5 1539.4,486.9 1540.2,486.3 1541.0,485.8 1541.8,485.2 1542.6,484.7 1543.4,484.3 1544.2,483.8 1545.1,483.4 1545.9,483.0 1546.8,482.7 1547.7,482.4 1548.6,482.1 1549.5,481.8 1550.5,481.6 1551.4,481.3 1552.4,481.1 1553.4,480.9 1554.4,480.7 1555.4,480.5 1556.4,480.3 1557.5,480.1 1558.5,479.9 1559.5,479.7 1560.6,479.5 1561.6,479.3 1562.6,479.1 1563.6,478.9 1564.6,478.7 1565.6,478.5 1566.5,478.2 1567.5,477.9 1568.4,477.6 1569.3,477.3 1570.2,476.9 1571.0,476.5 1571.9,476.1 1572.7,475.6 1573.6,475.1 1574.4,474.5 1575.2,473.9 1576.0,473.3 1576.9,472.7 1577.7,472.0 1578.4,471.3 1579.2,470.6 1580.0,469.9 1580.7,469.2 1581.4,468.5 1582.2,467.8 1582.9,467.1 1583.6,466.4 1584.2,465.7 1584.9,465.0 1585.5,464.3 1586.2,463.5 1586.8,462.7 1587.4,462.0 1588.0,461.2 1588.6,460.4 1589.2,459.6 1589.8,458.7 1590.4,457.9 1591.0,457.1 1591.5,456.3 1592.1,455.4 1592.7,454.6 1593.3,453.7 1593.8,452.9 1594.4,452.1 1595.0,451.2 1595.5,450.4 1596.1,449.6 1596.7,448.7 1597.3,447.9 1597.9,447.1 1598.5,446.3 1599.1,445.5 1599.7,444.7 1600.3,443.9 1600.9,443.1 1601.5,442.3 1602.1,441.5 1602.7,440.7 1603.3,439.9 1603.9,439.1 1604.5,438.3 1605.1,437.5 1605.7,436.7 1606.3,435.9 1606.9,435.1 1607.5,434.3 1608.1,433.5 1608.7,432.7 1609.3,431.9 1609.9,431.1 1610.5,430.3 1611.1,429.5 1611.7,428.7 1612.3,427.9 1612.9,427.1 1613.5,426.3 1614.2,425.5 1614.8,424.7 1615.4,423.9 1616.0,423.2 1616.7,422.4 1617.3,421.6 1617.9,420.9 1618.6,420.1 1619.3,419.3 1619.9,418.6 1620.6,417.8 1621.3,417.1 1622.0,416.4 1622.7,415.6 1623.4,414.9 1624.1,414.2 1624.8,413.4 1625.5,412.7 1626.2,412.0 1626.9,411.2 1627.6,410.5 1628.3,409.8 1629.0,409.1 1629.7,408.3 1630.4,407.6 1631.1,406.8 1631.7,406.1 1632.4,405.3 1633.0,404.6 1633.7,403.8 1634.3,403.0 1634.9,402.3 1635.5,401.5 1636.1,400.7 1636.7,399.9 1637.3,399.1 1637.8,398.3 1638.3,397.5 1638.9,396.6 1639.4,395.8 1639.9,395.0 1640.4,394.1 1641.0,393.3 1641.5,392.4 1642.0,391.5 1642.5,390.6 1643.0,389.8 1643.5,388.9 1644.0,388.0 1644.5,387.1 1644.9,386.2 1645.4,385.3 1645.8,384.4 1646.3,383.4 1646.7,382.5 1647.2,381.6 1647.6,380.7 1648.0,379.8 1648.4,378.8 1648.7,377.9 1649.1,377.0 1649.5,376.1 1649.8,375.1 1650.1,374.2 1650.4,373.3 1650.7,372.3 1651.0,371.4 1651.3,370.4 1651.5,369.5 1651.8,368.5 1652.0,367.6 1652.3,366.6 1652.5,365.6 1652.7,364.7 1653.0,363.7 1653.2,362.7 1653.4,361.7 1653.6,360.8 1653.8,359.8 1654.0,358.8 1654.2,357.8 1654.4,356.8 1654.6,355.8 1654.8,354.8 1655.0,353.8 1655.2,352.9 1655.3,351.9 1655.5,350.9 1655.7,349.9 1655.9,348.9 1656.1,347.9 1656.3,346.9 1656.5,345.9 1656.7,344.9 1656.9,343.9 1657.1,343.0 1657.3,342.0 1657.5,341.0 1657.8,340.0 1658.0,339.0 1658.2,338.1 1658.5,337.1 1658.7,336.1 1659.0,335.1 1659.2,334.2 1659.5,333.2 1659.7,332.2 1660.0,331.3 1660.3,330.3 1660.5,329.3 1660.8,328.4 1661.1,327.4 1661.4,326.4 1661.6,325.5 1661.9,324.5 1662.2,323.5 1662.5,322.6 1662.7,321.6 1663.0,320.6 1663.2,319.7 1663.5,318.7 1663.8,317.7 1664.0,316.8 1664.3,315.8 1664.5,314.8 1664.7,313.9 1665.0,312.9 1665.2,311.9 1665.4,310.9 1665.6,310.0 1665.8,309.0 1666.0,308.0 1666.2,307.0 1666.4,306.0 1666.5,305.1 1666.7,304.1 1666.9,303.1 1667.0,302.1 1667.2,301.1 1667.3,300.1 1667.5,299.1 1667.6,298.1 1667.8,297.2 1667.9,296.2 1668.1,295.2 1668.2,294.2 1668.4,293.2 1668.5,292.2 1668.6,291.2 1668.8,290.2 1668.9,289.2 1669.0,288.2 1669.2,287.2 1669.3,286.2 1669.4,285.2 1669.6,284.2 1669.7,283.2 1669.8,282.3 1670.0,281.3 1670.1,280.3 1670.3,279.3 1670.4,278.3 1670.6,277.3 1670.7,276.3 1670.9,275.3 1671.0,274.3 1671.2,273.3 1671.3,272.3 1671.5,271.4 1671.6,270.4 1671.8,269.4 1672.0,268.4 1672.1,267.4 1672.3,266.4 1672.4,265.4 1672.6,264.4 1672.8,263.4 1672.9,262.5 1673.1,261.5 1673.2,260.5 1673.4,259.5 1673.5,258.5 1673.7,257.5 1673.8,256.5 1674.0,255.5 1674.1,254.5 1674.3,253.5 1674.4,252.6 1674.5,251.6 1674.7,250.6 1674.8,249.6 1674.9,248.6 1675.0,247.6 1675.2,246.6 1675.3,245.6 1675.4,244.6 1675.5,243.6 1675.6,242.6 1675.7,241.6 1675.8,240.6 1675.9,239.6 1676.0,238.6 1676.1,237.6 1676.2,236.6 1676.2,235.6 1676.3,234.6 1676.4,233.6 1676.5,232.6 1676.6,231.6 1676.7,230.6 1676.8,229.6 1676.9,228.6 1677.0,227.6 1677.1,226.6 1677.2,225.6 1677.3,224.7 1677.4,223.7 1677.5,222.7 1677.6,221.7 1677.7,220.7 1677.8,219.7 1677.9,218.7 1678.0,217.7 1678.2,216.7 1678.3,215.7 1678.4,214.7 1678.6,213.7 1678.7,212.7 1678.9,211.8 1679.0,210.8 1679.2,209.8 1679.4,208.8 1679.5,207.8 1679.7,206.8 1679.9,205.8 1680.0,204.8 1680.2,203.9 1680.4,202.9 1680.6,201.9 1680.7,200.9 1680.9,199.9 1681.1,198.9 1681.3,197.9 1681.5,197.0 1681.7,196.0 1681.9,195.0 1682.1,194.0 1682.2,193.0 1682.4,192.0 1682.6,191.1 1682.8,190.1 1683.0,189.1 1683.2,188.1 1683.4,187.1 1683.6,186.1 1683.7,185.1 1683.9,184.2 1684.1,183.2 1684.3,182.2 1684.5,181.2 1684.6,180.2 1684.8,179.2 1685.0,178.2 1685.2,177.3 1685.3,176.3 1685.5,175.3 1685.7,174.3 1685.8,173.3 1686.0,172.3 1686.2,171.3 1686.4,170.3 1686.5,169.4 1686.7,168.4 1686.9,167.4 1687.0,166.4 1687.2,165.4 1687.4,164.4 1687.6,163.4 1687.7,162.4 1687.9,161.5 1688.1,160.5 1688.3,159.5 1688.4,158.5 1688.6,157.5 1688.8,156.5 1689.0,155.5 1689.2,154.6 1689.4,153.6 1689.6,152.6 1689.8,151.6 1689.9,150.6 1690.1,149.7 1690.3,148.7 1690.6,147.7 1690.8,146.7 1691.0,145.7 1691.2,144.8 1691.4,143.8 1691.6,142.8 1691.8,141.8 1692.1,140.9 1692.3,139.9 1692.5,138.9 1692.8,137.9 1693.0,137.0 1693.2,136.0 1693.5,135.0 1693.7,134.0 1694.0,133.1 1694.2,132.1 1694.5,131.1 1694.7,130.2 1695.0,129.2 1695.2,128.2 1695.5,127.3 1695.7,126.3 1696.0,125.3 1696.2,124.3 1696.5,123.4 1696.8,122.4 1697.0,121.4 1697.3,120.5 1697.5,119.5 1697.8,118.5 1698.1,117.6 1698.3,116.6 1698.6,115.6 1698.8,114.6 1699.1,113.5 1699.3,112.3 1699.6,111.0 1699.8,109.8 1700.1,108.5 1700.3,107.2 1700.5,105.9 1700.8,104.7 1701.0,103.6 1701.3,102.4 1701.6,101.4 1701.9,100.5 1702.2,99.7 1702.5,99.0 1702.8,98.5 1703.2,98.2 1703.6,98.0 1704.0,98.0 1704.5,98.3 1705.0,98.7 1705.7,99.3 1706.4,100.0 1707.1,100.8 1707.8,101.7 1708.6,102.7 1709.3,103.7 1710.0,104.7 1710.8,105.7 1711.4,106.6 1712.1,107.5 1712.6,108.3 1713.2,109.2 1713.8,110.0 1714.3,110.8 1714.8,111.7 1715.4,112.5 1715.9,113.4 1716.4,114.2 1716.9,115.1 1717.5,116.0 1718.0,116.8 1718.4,117.7 1718.9,118.6 1719.4,119.5 1719.9,120.4 1720.3,121.3 1720.8,122.2 1721.2,123.1 1721.6,124.0 1722.1,124.9 1722.5,125.8 1722.9,126.7 1723.3,127.6 1723.7,128.6 1724.0,129.5 1724.4,130.4 1724.7,131.3 1725.1,132.3 1725.4,133.2 1725.8,134.1 1726.1,135.1 1726.4,136.0 1726.7,137.0 1727.0,138.0 1727.4,138.9 1727.7,139.9 1728.0,140.8 1728.3,141.8 1728.6,142.7 1728.9,143.7 1729.2,144.7 1729.5,145.6 1729.8,146.6 1730.1,147.5 1730.5,148.5 1730.8,149.4 1731.1,150.4 1731.5,151.3 1731.8,152.3 1732.1,153.2 1732.4,154.2 1732.8,155.1 1733.1,156.0 1733.4,157.0 1733.7,157.9 1734.1,158.9 1734.4,159.8 1734.7,160.8 1735.0,161.7 1735.4,162.7 1735.7,163.6 1736.0,164.6 1736.4,165.5 1736.7,166.5 1737.0,167.4 1737.4,168.3 1737.8,169.3 1738.1,170.2 1738.5,171.1 1738.8,172.1 1739.2,173.0 1739.6,173.9 1740.0,174.8 1740.4,175.8 1740.8,176.7 1741.2,177.6 1741.6,178.5 1742.0,179.4 1742.4,180.3 1742.8,181.3 1743.2,182.2 1743.6,183.1 1744.0,184.0 1744.5,184.9 1744.9,185.8 1745.3,186.7 1745.8,187.6 1746.2,188.5 1746.6,189.4 1747.1,190.3 1747.5,191.2 1747.9,192.1 1748.4,193.0 1748.8,193.9 1749.3,194.8 1749.7,195.7 1750.2,196.6 1750.6,197.5 1751.0,198.4 1751.5,199.3 1751.9,200.2 1752.4,201.1 1752.9,202.0 1753.3,202.9 1753.8,203.8 1754.3,204.7 1754.7,205.6 1755.2,206.4 1755.7,207.3 1756.2,208.2 1756.7,209.1 1757.2,209.9 1757.7,210.8 1758.2,211.6 1758.7,212.5 1759.2,213.4 1759.8,214.2 1760.4,214.9 1761.3,215.7 1761.8,215.3 1762.3,214.3 1762.7,213.2 1763.1,212.3 1763.5,211.4 1763.9,210.5 1764.3,209.6 1764.7,208.6 1765.0,207.7 1765.4,206.8 1765.7,205.8" fill="none" stroke="#20603e" stroke-width="4.00" stroke-dasharray="16.5 15.5" stroke-linejoin="round" stroke-dashoffset="26" clip-path="url(#cr)"/>
<g fill="none" stroke="#7a3f72" clip-path="url(#cr)"><path d="M1061.0 637.0L1065.6 637.0M1069.1 637.0L1073.8 637.0M1077.3 637.0L1081.9 636.9M1085.4 636.9L1090.1 636.9M1093.6 636.8L1098.2 636.8M1101.7 636.8L1106.4 636.7M1109.9 636.7L1114.5 636.6M1118.0 636.6L1122.7 636.5M1126.2 636.4L1130.8 636.4M1134.3 636.3L1139.0 636.2M1142.5 636.1L1147.1 636.1M1150.6 636.0L1155.3 635.9M1158.8 635.8L1163.4 635.6M1166.9 635.5L1171.5 635.2M1175.0 635.0L1179.6 634.8M1183.1 634.5L1187.7 634.2M1191.2 633.9L1195.7 633.4M1199.1 632.9L1203.5 632.1M1231.5 619.7L1235.9 619.0M1239.4 618.5L1243.9 618.1M1247.4 618.0L1252.1 618.2M1255.5 618.4L1260.1 618.8M1263.6 619.1L1268.2 619.6M1271.6 620.0L1276.2 620.5M1279.7 620.6L1284.3 620.4M1287.7 620.0L1292.2 619.3M1295.6 618.7L1300.0 618.0M1311.0 615.8L1315.5 615.1M1318.9 614.7L1323.5 614.3M1327.0 614.0L1331.6 613.7M1335.0 613.3L1339.6 612.8M1404.1 589.9L1408.7 589.6M1412.2 589.8L1416.8 590.0M1420.3 590.3L1424.9 590.8M1435.5 593.5L1439.9 594.3M1443.4 594.5L1448.0 594.8M1451.5 594.9L1456.1 595.0M1459.6 595.0L1464.2 594.5M1549.8 551.8L1554.2 551.0M1557.6 550.4L1562.0 549.6M1565.4 549.1L1569.8 548.4M1715.1 536.3L1719.7 535.9" stroke-width="4.00"/><path d="M1206.8 631.3L1210.7 629.9M1224.4 621.9L1228.2 620.4M1303.4 617.4L1307.7 616.5M1342.9 612.2L1347.2 611.3M1350.4 610.5L1354.6 609.3M1357.7 608.4L1361.6 606.9M1364.5 605.8L1368.2 604.2M1390.1 594.4L1393.8 592.8M1396.7 591.8L1400.9 590.6M1428.2 591.4L1432.4 592.6M1467.5 593.9L1471.9 593.0M1475.2 592.3L1479.4 591.2M1482.5 590.3L1486.5 588.9M1489.4 587.8L1493.1 586.3M1542.2 553.4L1546.4 552.4M1573.1 547.7L1577.3 546.6M1707.9 534.3L1711.8 535.7M1722.9 535.1L1727.0 533.9M1730.1 532.9L1733.8 531.4" stroke-width="4.25"/><path d="M1213.1 628.5L1216.0 626.4M1218.3 624.9L1221.7 623.2M1371.0 603.1L1374.7 601.4M1377.4 600.2L1380.9 598.5M1383.6 597.2L1387.3 595.6M1495.8 585.0L1499.1 583.2M1501.5 581.7L1504.6 579.7M1506.8 578.2L1509.7 576.2M1524.8 562.9L1527.7 560.8M1529.9 559.3L1532.9 557.3M1535.4 555.9L1539.1 554.3M1580.2 545.5L1583.7 543.7M1586.2 542.3L1589.3 540.4M1649.4 459.7L1652.9 461.4M1655.1 462.9L1658.0 465.0M1702.3 531.0L1705.4 532.9M1736.4 530.1L1739.7 528.2M1742.1 526.8L1745.4 524.9M1747.9 523.5L1751.3 521.7M1753.8 520.4L1757.2 518.6M1759.7 517.2L1763.1 515.4M1765.6 514.0L1766.0 513.8" stroke-width="4.50"/><path d="M1511.9 574.6L1514.4 572.4M1516.2 570.7L1518.6 568.5M1520.4 566.8L1522.8 564.5M1591.6 538.9L1594.4 536.8M1596.3 535.2L1598.8 532.9M1600.6 531.3L1603.1 529.0M1604.9 527.3L1607.3 525.1M1609.0 523.4L1611.2 521.0M1643.9 462.2L1646.3 459.9M1660.0 466.6L1662.5 468.8M1664.2 470.5L1666.3 472.9M1688.8 514.3L1690.5 516.7M1694.8 522.8L1696.6 525.2M1698.1 527.0L1700.3 529.3" stroke-width="4.75"/><path d="M1612.6 519.2L1614.3 516.8M1615.4 514.9L1616.9 512.4M1618.0 510.6L1619.3 508.0M1620.3 506.2L1621.7 503.6M1622.7 501.7L1624.0 499.2M1624.9 497.3L1626.1 494.8M1627.0 492.9L1628.3 490.4M1629.2 488.4L1630.4 485.9M1631.3 484.0L1632.6 481.5M1633.6 479.6L1634.8 477.1M1635.8 475.2L1637.1 472.7M1638.2 470.8L1639.8 468.3M1641.0 466.5L1642.6 464.0M1667.7 474.7L1669.3 477.1M1670.4 479.0L1671.8 481.5M1672.8 483.4L1674.0 486.0M1674.8 487.9L1675.8 490.4M1676.5 492.4L1677.5 494.9M1678.3 496.9L1679.5 499.4M1680.5 501.3L1681.9 503.8M1683.0 505.7L1684.6 508.1M1685.8 510.0L1687.5 512.4M1691.8 518.5L1693.5 521.0" stroke-width="5.00"/></g>
<polyline points="1067.9,636.6 1086.6,635.3 1105.4,633.9 1124.1,632.7 1142.8,633.2 1161.6,635.4 1180.3,636.8 1199.0,635.7 1217.7,635.4 1236.5,634.4 1255.2,631.6 1273.9,628.4 1292.7,624.4 1311.4,621.0 1330.1,618.4 1348.9,615.4 1367.6,612.3 1386.3,608.4 1405.0,603.9 1423.8,598.7 1442.5,596.0 1461.2,595.6 1480.0,589.6 1498.7,578.0 1517.4,569.2 1536.2,566.0 1554.9,563.0 1573.6,554.0 1592.3,538.0 1611.1,513.0 1629.8,488.7 1648.5,488.0 1667.3,526.4 1686.0,565.3 1704.7,564.7 1723.5,524.0 1742.2,469.2 1760.9,449.8" fill="none" stroke="#c000c0" stroke-width="4.00" stroke-dasharray="16.5 15.5" stroke-linejoin="round" stroke-dashoffset="30" clip-path="url(#cr)"/>
<g clip-path="url(#crm)"><polygon points="1080.4,636.6 1061.7,625.5 1061.7,647.8" fill="#c000c0"/><polygon points="1099.1,635.3 1080.4,624.1 1080.4,646.4" fill="#c000c0"/><polygon points="1117.8,633.9 1099.1,622.8 1099.1,645.0" fill="#c000c0"/><polygon points="1136.6,632.7 1117.9,621.6 1117.9,643.9" fill="#c000c0"/><polygon points="1155.3,633.2 1136.6,622.1 1136.6,644.4" fill="#c000c0"/><polygon points="1174.0,635.4 1155.3,624.2 1155.3,646.5" fill="#c000c0"/><polygon points="1192.7,636.8 1174.0,625.6 1174.0,647.9" fill="#c000c0"/><polygon points="1211.5,635.7 1192.8,624.6 1192.8,646.9" fill="#c000c0"/><polygon points="1230.2,635.4 1211.5,624.2 1211.5,646.5" fill="#c000c0"/><polygon points="1248.9,634.4 1230.2,623.2 1230.2,645.5" fill="#c000c0"/><polygon points="1267.7,631.6 1249.0,620.5 1249.0,642.8" fill="#c000c0"/><polygon points="1286.4,628.4 1267.7,617.2 1267.7,639.5" fill="#c000c0"/><polygon points="1305.1,624.4 1286.4,613.2 1286.4,635.5" fill="#c000c0"/><polygon points="1323.9,621.0 1305.2,609.9 1305.2,632.1" fill="#c000c0"/><polygon points="1342.6,618.4 1323.9,607.2 1323.9,629.5" fill="#c000c0"/><polygon points="1361.3,615.4 1342.6,604.2 1342.6,626.5" fill="#c000c0"/><polygon points="1380.0,612.3 1361.3,601.1 1361.3,623.4" fill="#c000c0"/><polygon points="1398.8,608.4 1380.1,597.2 1380.1,619.5" fill="#c000c0"/><polygon points="1417.5,603.9 1398.8,592.8 1398.8,615.0" fill="#c000c0"/><polygon points="1436.2,598.7 1417.5,587.6 1417.5,609.9" fill="#c000c0"/><polygon points="1455.0,596.0 1436.3,584.9 1436.3,607.1" fill="#c000c0"/><polygon points="1473.7,595.6 1455.0,584.5 1455.0,606.8" fill="#c000c0"/><polygon points="1492.4,589.6 1473.7,578.5 1473.7,600.8" fill="#c000c0"/><polygon points="1511.2,578.0 1492.5,566.9 1492.5,589.1" fill="#c000c0"/><polygon points="1529.9,569.2 1511.2,558.1 1511.2,580.4" fill="#c000c0"/><polygon points="1548.6,566.0 1529.9,554.9 1529.9,577.1" fill="#c000c0"/><polygon points="1567.3,563.0 1548.6,551.9 1548.6,574.1" fill="#c000c0"/><polygon points="1586.1,554.0 1567.4,542.9 1567.4,565.1" fill="#c000c0"/><polygon points="1604.8,538.0 1586.1,526.9 1586.1,549.1" fill="#c000c0"/><polygon points="1623.5,513.0 1604.8,501.9 1604.8,524.1" fill="#c000c0"/><polygon points="1642.3,488.7 1623.6,477.6 1623.6,499.8" fill="#c000c0"/><polygon points="1661.0,488.0 1642.3,476.9 1642.3,499.1" fill="#c000c0"/><polygon points="1679.7,526.4 1661.0,515.2 1661.0,537.5" fill="#c000c0"/><polygon points="1698.5,565.3 1679.8,554.1 1679.8,576.4" fill="#c000c0"/><polygon points="1717.2,564.7 1698.5,553.6 1698.5,575.9" fill="#c000c0"/><polygon points="1735.9,524.0 1717.2,512.9 1717.2,535.1" fill="#c000c0"/><polygon points="1754.6,469.2 1735.9,458.1 1735.9,480.3" fill="#c000c0"/><polygon points="1773.4,449.8 1754.7,438.7 1754.7,460.9" fill="#c000c0"/></g>
</g>
<g font-size="35.75" font-weight="bold" fill="#262626"><text transform="translate(1061.00,685.00) scale(1.0000,1.0500)" font-size="35.75" text-anchor="middle" >150</text><text transform="translate(1246.72,685.00) scale(1.0000,1.0500)" font-size="35.75" text-anchor="middle" >200</text><text transform="translate(1432.45,685.00) scale(1.0000,1.0500)" font-size="35.75" text-anchor="middle" >250</text><text transform="translate(1618.18,685.00) scale(1.0000,1.0500)" font-size="35.75" text-anchor="middle" >300</text><text transform="translate(1046.50,636.80) scale(1.0000,1.0500)" font-size="35.75" text-anchor="end" >0.2</text><text transform="translate(1046.50,484.90) scale(1.0000,1.0500)" font-size="35.75" text-anchor="end" >0.4</text><text transform="translate(1046.50,333.00) scale(1.0000,1.0500)" font-size="35.75" text-anchor="end" >0.6</text><text transform="translate(1046.50,181.10) scale(1.0000,1.0500)" font-size="35.75" text-anchor="end" >0.8</text><text transform="translate(1048.50,29.30) scale(1.0000,1.0500)" font-size="35.75" text-anchor="end" >1</text></g>
<text transform="translate(1413.30,733.90) scale(1.0000,1.0200)" font-size="39.00" text-anchor="middle" font-weight="bold" fill="#262626">t</text>
<text transform="translate(980.1,326) rotate(-90) scale(0.99,1.085)" font-size="39" font-weight="bold" fill="#262626" text-anchor="middle">W</text>
<text x="1079" y="61.7" font-size="40" fill="#111111" textLength="53" lengthAdjust="spacingAndGlyphs">(b)</text>
<g id="right-legend" font-weight="bold" fill="#000000">
<line x1="1281.8" y1="56.6" x2="1350.6" y2="56.6" stroke="#77ac30" stroke-width="4.7" stroke-dasharray="5.0 3.15"/>
<polygon points="1303.9,56.6 1322.6,45.5 1322.6,67.8" fill="#77ac30"/>
<text transform="translate(1355.5,70.0) scale(1,1.04)" font-size="33" textLength="164.5" lengthAdjust="spacingAndGlyphs">case 3 left</text>
<line x1="1281.8" y1="99.6" x2="1350.6" y2="99.6" stroke="#20603e" stroke-width="4.0" stroke-dasharray="17.5 15"/>
<text transform="translate(1355.5,112.9) scale(1,1.04)" font-size="33" textLength="189.0" lengthAdjust="spacingAndGlyphs">case 3 right</text>
<line x1="1281.8" y1="142.2" x2="1350.6" y2="142.2" stroke="#7a3f72" stroke-width="4.7" stroke-dasharray="5.0 3.15"/>
<text transform="translate(1355.5,155.9) scale(1,1.04)" font-size="33" textLength="164.5" lengthAdjust="spacingAndGlyphs">case 4 left</text>
<line x1="1281.8" y1="185.8" x2="1350.6" y2="185.8" stroke="#c000c0" stroke-width="4.0" stroke-dasharray="17.5 15"/>
<polygon points="1327.8,186.2 1309.1,175.1 1309.1,197.4" fill="#c000c0"/>
<text transform="translate(1355.5,198.4) scale(1,1.04)" font-size="33" textLength="189.0" lengthAdjust="spacingAndGlyphs">case 4 right</text>
</g>
</g>
</svg>
</body>
</html>
